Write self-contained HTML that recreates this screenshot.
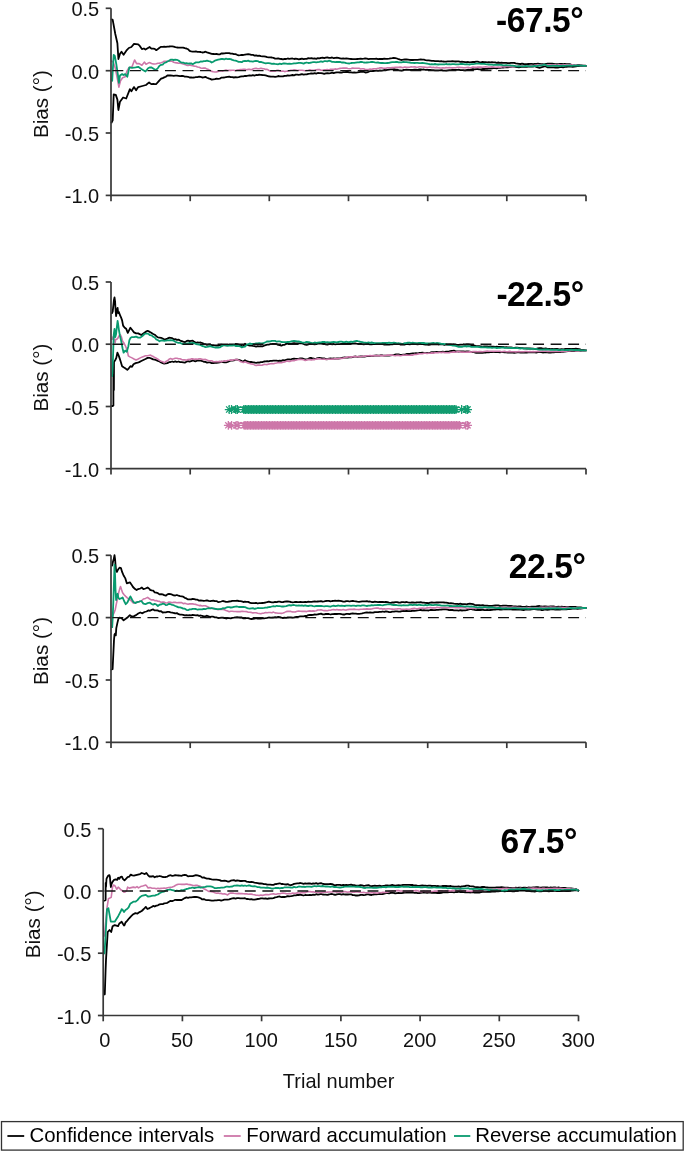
<!DOCTYPE html><html><head><meta charset="utf-8"><style>html,body{margin:0;padding:0;background:#fff;}svg{display:block}text{-webkit-font-smoothing:antialiased}</style></head><body>
<svg width="685" height="1152" viewBox="0 0 685 1152" font-family='"Liberation Sans", sans-serif'>
<rect width="685" height="1152" fill="#fff"/>
<g opacity="0.999">
<path d="M111.6 19.4 L112.7 19.9 L115.3 34.0 L117.4 43.3 L118.4 59.0 L120.0 53.8 L121.5 51.7 L123.6 54.8 L126.8 50.1 L128.8 48.0 L131.4 47.0 L134.0 43.9 L138.2 44.4 L139.8 45.9 L141.9 49.1 L143.9 48.5 L145.5 49.6 L149.7 47.0 L150.0 47.6 L151.6 48.7 L153.2 48.6 L154.7 48.9 L156.3 50.2 L157.9 49.1 L159.5 47.8 L161.1 46.8 L162.7 46.8 L164.2 46.6 L165.8 46.9 L167.4 46.6 L169.0 46.5 L170.6 46.3 L172.2 46.4 L173.7 46.6 L175.3 47.1 L176.9 47.5 L178.5 47.7 L180.1 47.7 L181.7 47.6 L183.2 47.7 L184.8 48.2 L186.4 48.5 L188.0 49.2 L189.6 50.8 L191.2 51.3 L192.7 51.6 L194.3 51.6 L195.9 51.4 L197.5 51.8 L199.1 51.8 L200.7 52.0 L202.2 52.5 L203.8 52.3 L205.4 51.7 L207.0 52.4 L208.6 52.9 L210.2 53.4 L211.7 53.9 L213.3 54.0 L214.9 54.2 L216.5 53.9 L218.1 54.4 L219.7 54.4 L221.2 53.5 L222.8 53.5 L224.4 53.4 L226.0 53.1 L227.6 53.1 L229.2 53.2 L230.7 53.7 L232.3 53.7 L233.9 54.2 L235.5 54.1 L237.1 54.8 L238.7 55.3 L240.2 55.2 L241.8 55.0 L243.4 55.0 L245.0 54.6 L246.6 54.4 L248.2 54.2 L249.7 54.4 L251.3 54.9 L252.9 54.8 L254.5 55.6 L256.1 55.3 L257.7 55.9 L259.2 55.7 L260.8 56.2 L262.4 56.3 L264.0 56.3 L265.6 56.6 L267.2 57.1 L268.7 57.4 L270.3 57.4 L271.9 57.5 L273.5 57.9 L275.1 58.6 L276.7 58.7 L278.2 58.3 L279.8 58.8 L281.4 59.0 L283.0 59.3 L284.6 58.8 L286.2 59.0 L287.7 58.5 L289.3 58.8 L290.9 58.6 L292.5 58.5 L294.1 59.0 L295.7 58.7 L297.2 58.9 L298.8 59.3 L300.4 59.0 L302.0 58.7 L303.6 59.1 L305.2 58.8 L306.7 58.8 L308.3 58.2 L309.9 58.3 L311.5 58.2 L313.1 58.7 L314.7 58.4 L316.2 58.8 L317.8 58.2 L319.4 58.4 L321.0 57.8 L322.6 57.7 L324.2 58.1 L325.7 57.6 L327.3 57.4 L328.9 57.8 L330.5 57.8 L332.1 57.5 L333.7 58.2 L335.2 57.8 L336.8 57.6 L338.4 57.9 L340.0 58.3 L341.6 58.7 L343.2 58.5 L344.7 58.6 L346.3 58.4 L347.9 58.6 L349.5 58.9 L351.1 59.0 L352.7 59.2 L354.2 59.1 L355.8 59.2 L357.4 59.0 L359.0 58.9 L360.6 58.6 L362.2 58.8 L363.7 58.7 L365.3 58.5 L366.9 58.7 L368.5 59.1 L370.1 58.8 L371.7 58.9 L373.2 58.9 L374.8 58.9 L376.4 58.7 L378.0 59.2 L379.6 58.9 L381.2 59.0 L382.7 59.0 L384.3 58.7 L385.9 58.9 L387.5 58.8 L389.1 58.7 L390.7 58.4 L392.2 58.2 L393.8 57.9 L395.4 58.1 L397.0 58.5 L398.6 59.2 L400.2 59.7 L401.7 60.0 L403.3 59.6 L404.9 59.5 L406.5 59.4 L408.1 59.6 L409.7 59.8 L411.2 60.0 L412.8 60.0 L414.4 59.8 L416.0 59.8 L417.6 59.9 L419.2 59.6 L420.7 59.5 L422.3 59.7 L423.9 59.7 L425.5 60.1 L427.1 60.3 L428.7 60.3 L430.2 60.6 L431.8 60.9 L433.4 60.9 L435.0 61.1 L436.6 61.2 L438.2 61.1 L439.7 61.3 L441.3 61.1 L442.9 61.5 L444.5 61.7 L446.1 61.7 L447.7 61.4 L449.2 61.4 L450.8 61.4 L452.4 61.1 L454.0 61.3 L455.6 61.5 L457.2 61.4 L458.7 61.3 L460.3 61.8 L461.9 61.7 L463.5 61.9 L465.1 62.2 L466.7 62.2 L468.2 62.0 L469.8 62.4 L471.4 62.1 L473.0 61.8 L474.6 62.0 L476.2 61.7 L477.7 61.7 L479.3 62.2 L480.9 62.3 L482.5 62.0 L484.1 62.1 L485.7 62.2 L487.2 62.3 L488.8 62.2 L490.4 62.4 L492.0 62.2 L493.6 62.3 L495.2 62.4 L496.7 62.8 L498.3 62.5 L499.9 62.8 L501.5 62.7 L503.1 62.8 L504.7 62.8 L506.2 62.9 L507.8 63.1 L509.4 63.1 L511.0 62.9 L512.6 62.8 L514.2 62.9 L515.7 63.4 L517.3 63.6 L518.9 63.9 L520.5 64.0 L522.1 63.7 L523.7 64.0 L525.2 64.1 L526.8 64.2 L528.4 64.0 L530.0 63.9 L531.6 63.9 L533.2 64.1 L534.7 63.9 L536.3 63.8 L537.9 63.7 L539.5 63.9 L541.1 64.1 L542.7 64.2 L544.2 64.3 L545.8 64.0 L547.4 63.6 L549.0 63.7 L550.6 63.6 L552.2 63.7 L553.7 63.9 L555.3 64.1 L556.9 64.1 L558.5 64.2 L560.1 63.9 L561.7 63.9 L563.2 64.2 L564.8 64.0 L566.4 64.1 L568.0 64.1 L569.6 64.1 L571.2 64.6 L572.7 64.9 L574.3 65.0 L575.9 64.8 L577.5 64.9 L579.1 65.0 L580.7 65.3 L582.2 65.5 L583.8 65.6 L585.4 65.7 L586.0 65.8" fill="none" stroke="#000" stroke-width="1.8" stroke-linejoin="round" stroke-linecap="round"/>
<path d="M111.6 122.5 L112.7 120.4 L113.7 94.4 L115.8 94.9 L117.4 99.6 L118.4 110.0 L120.0 101.7 L123.1 97.5 L126.2 98.5 L129.9 89.2 L131.4 91.2 L134.0 87.1 L136.1 90.2 L138.2 87.1 L142.4 86.0 L146.0 85.0 L149.1 82.4 L150.0 83.3 L151.6 84.2 L153.2 84.0 L154.7 84.2 L156.3 84.0 L157.9 82.2 L159.5 80.3 L161.1 78.7 L162.7 78.1 L164.2 77.4 L165.8 76.7 L167.4 75.5 L169.0 75.4 L170.6 75.5 L172.2 75.6 L173.7 75.8 L175.3 75.7 L176.9 75.7 L178.5 75.9 L180.1 76.1 L181.7 75.9 L183.2 76.0 L184.8 76.6 L186.4 76.7 L188.0 76.8 L189.6 77.5 L191.2 77.5 L192.7 77.7 L194.3 77.5 L195.9 77.1 L197.5 77.1 L199.1 76.7 L200.7 76.9 L202.2 77.5 L203.8 77.4 L205.4 76.9 L207.0 77.7 L208.6 78.4 L210.2 78.9 L211.7 79.6 L213.3 79.4 L214.9 79.2 L216.5 78.6 L218.1 78.8 L219.7 78.7 L221.2 77.7 L222.8 77.6 L224.4 77.5 L226.0 77.1 L227.6 76.9 L229.2 76.7 L230.7 77.2 L232.3 77.2 L233.9 77.5 L235.5 77.2 L237.1 77.3 L238.7 77.2 L240.2 76.7 L241.8 76.3 L243.4 76.3 L245.0 75.9 L246.6 76.0 L248.2 75.6 L249.7 75.4 L251.3 75.7 L252.9 75.2 L254.5 75.6 L256.1 75.0 L257.7 75.2 L259.2 74.6 L260.8 74.8 L262.4 75.0 L264.0 75.1 L265.6 75.3 L267.2 75.8 L268.7 76.3 L270.3 76.5 L271.9 76.6 L273.5 76.6 L275.1 76.9 L276.7 76.7 L278.2 76.0 L279.8 76.3 L281.4 76.3 L283.0 76.4 L284.6 75.8 L286.2 75.9 L287.7 75.4 L289.3 75.6 L290.9 75.3 L292.5 75.0 L294.1 75.3 L295.7 74.7 L297.2 74.7 L298.8 74.9 L300.4 74.5 L302.0 74.2 L303.6 74.6 L305.2 74.3 L306.7 74.4 L308.3 73.8 L309.9 73.7 L311.5 73.4 L313.1 73.6 L314.7 73.2 L316.2 73.6 L317.8 73.0 L319.4 73.2 L321.0 73.1 L322.6 73.4 L324.2 73.8 L325.7 73.3 L327.3 73.1 L328.9 73.4 L330.5 73.2 L332.1 72.7 L333.7 73.2 L335.2 72.7 L336.8 72.3 L338.4 72.3 L340.0 72.5 L341.6 72.7 L343.2 72.2 L344.7 72.1 L346.3 71.8 L347.9 72.0 L349.5 72.3 L351.1 72.4 L352.7 72.6 L354.2 72.5 L355.8 72.6 L357.4 72.4 L359.0 72.1 L360.6 71.8 L362.2 71.9 L363.7 71.7 L365.3 72.5 L366.9 72.3 L368.5 71.8 L370.1 71.1 L371.7 71.2 L373.2 71.0 L374.8 70.9 L376.4 70.5 L378.0 70.9 L379.6 70.5 L381.2 70.6 L382.7 70.4 L384.3 70.0 L385.9 70.2 L387.5 69.9 L389.1 69.6 L390.7 69.4 L392.2 69.4 L393.8 69.2 L395.4 69.5 L397.0 69.7 L398.6 70.2 L400.2 70.4 L401.7 70.6 L403.3 70.0 L404.9 69.9 L406.5 69.7 L408.1 69.8 L409.7 69.9 L411.2 70.0 L412.8 70.0 L414.4 69.7 L416.0 69.7 L417.6 69.8 L419.2 69.5 L420.7 69.3 L422.3 69.6 L423.9 69.5 L425.5 69.9 L427.1 69.9 L428.7 69.8 L430.2 69.9 L431.8 70.1 L433.4 70.2 L435.0 70.4 L436.6 70.4 L438.2 70.3 L439.7 70.4 L441.3 70.2 L442.9 70.5 L444.5 70.7 L446.1 70.6 L447.7 70.3 L449.2 70.2 L450.8 70.2 L452.4 69.8 L454.0 69.8 L455.6 69.9 L457.2 69.8 L458.7 69.7 L460.3 70.2 L461.9 70.2 L463.5 70.1 L465.1 70.3 L466.7 70.0 L468.2 69.6 L469.8 69.8 L471.4 69.5 L473.0 69.2 L474.6 69.4 L476.2 69.2 L477.7 69.1 L479.3 69.4 L480.9 69.4 L482.5 69.0 L484.1 69.0 L485.7 68.9 L487.2 68.9 L488.8 68.7 L490.4 68.7 L492.0 68.3 L493.6 68.2 L495.2 68.1 L496.7 68.3 L498.3 67.8 L499.9 67.9 L501.5 67.6 L503.1 67.6 L504.7 67.4 L506.2 67.4 L507.8 67.4 L509.4 67.2 L511.0 66.9 L512.6 66.7 L514.2 66.6 L515.7 67.0 L517.3 67.1 L518.9 67.3 L520.5 67.2 L522.1 66.7 L523.7 66.9 L525.2 66.9 L526.8 66.9 L528.4 66.7 L530.0 66.5 L531.6 66.4 L533.2 66.5 L534.7 66.2 L536.3 66.8 L537.9 67.4 L539.5 67.8 L541.1 67.3 L542.7 66.9 L544.2 66.3 L545.8 66.4 L547.4 67.3 L549.0 67.4 L550.6 67.3 L552.2 67.3 L553.7 67.4 L555.3 67.5 L556.9 67.4 L558.5 67.5 L560.1 67.1 L561.7 67.0 L563.2 67.3 L564.8 66.9 L566.4 66.8 L568.0 66.5 L569.6 66.4 L571.2 66.6 L572.7 66.8 L574.3 66.6 L575.9 66.3 L577.5 66.1 L579.1 66.0 L580.7 66.1 L582.2 66.0 L583.8 65.9 L585.4 65.8 L586.0 65.8" fill="none" stroke="#000" stroke-width="1.8" stroke-linejoin="round" stroke-linecap="round"/>
<path d="M111.6 61.0 L113.2 62.1 L115.3 68.3 L117.4 78.8 L118.9 87.1 L120.5 80.8 L122.6 77.7 L125.2 76.7 L126.8 71.5 L128.8 67.8 L132.0 66.8 L134.6 60.0 L136.6 63.6 L139.2 63.6 L141.9 65.2 L144.5 62.1 L146.0 64.2 L149.1 62.6 L150.0 62.8 L151.6 63.5 L153.2 63.9 L154.7 64.0 L156.3 63.7 L157.9 63.2 L159.5 63.1 L161.1 62.7 L162.7 62.2 L164.2 61.2 L165.8 61.2 L167.4 61.2 L169.0 61.2 L170.6 61.1 L172.2 61.3 L173.7 62.2 L175.3 62.6 L176.9 62.9 L178.5 63.3 L180.1 63.1 L181.7 63.4 L183.2 64.0 L184.8 64.5 L186.4 65.1 L188.0 65.5 L189.6 65.0 L191.2 65.4 L192.7 65.7 L194.3 66.1 L195.9 66.3 L197.5 67.0 L199.1 67.2 L200.7 67.9 L202.2 68.3 L203.8 68.1 L205.4 68.1 L207.0 69.1 L208.6 69.6 L210.2 70.5 L211.7 71.4 L213.3 71.8 L214.9 72.0 L216.5 71.9 L218.1 71.5 L219.7 70.9 L221.2 70.7 L222.8 71.1 L224.4 70.5 L226.0 70.1 L227.6 70.5 L229.2 70.3 L230.7 70.4 L232.3 70.3 L233.9 70.2 L235.5 70.7 L237.1 70.1 L238.7 69.9 L240.2 69.5 L241.8 69.6 L243.4 69.4 L245.0 69.4 L246.6 69.7 L248.2 69.4 L249.7 69.4 L251.3 69.7 L252.9 69.0 L254.5 68.5 L256.1 68.4 L257.7 68.7 L259.2 68.7 L260.8 68.3 L262.4 68.6 L264.0 68.8 L265.6 69.4 L267.2 69.4 L268.7 70.3 L270.3 71.1 L271.9 71.3 L273.5 71.2 L275.1 71.2 L276.7 70.4 L278.2 70.3 L279.8 71.0 L281.4 71.3 L283.0 71.1 L284.6 71.6 L286.2 71.3 L287.7 71.3 L289.3 70.7 L290.9 70.2 L292.5 70.2 L294.1 69.9 L295.7 70.0 L297.2 70.5 L298.8 70.3 L300.4 70.2 L302.0 70.3 L303.6 70.5 L305.2 70.8 L306.7 70.5 L308.3 70.2 L309.9 69.8 L311.5 70.4 L313.1 70.2 L314.7 70.0 L316.2 69.7 L317.8 69.6 L319.4 69.6 L321.0 70.3 L322.6 70.2 L324.2 69.8 L325.7 69.8 L327.3 69.6 L328.9 70.0 L330.5 69.3 L332.1 69.2 L333.7 69.3 L335.2 68.9 L336.8 69.2 L338.4 68.7 L340.0 68.4 L341.6 68.3 L343.2 68.0 L344.7 68.1 L346.3 68.0 L347.9 68.5 L349.5 68.7 L351.1 68.5 L352.7 68.1 L354.2 68.2 L355.8 68.2 L357.4 68.2 L359.0 68.3 L360.6 69.0 L362.2 68.8 L363.7 68.7 L365.3 69.5 L366.9 69.5 L368.5 69.6 L370.1 69.1 L371.7 69.2 L373.2 68.9 L374.8 68.8 L376.4 68.7 L378.0 68.4 L379.6 67.9 L381.2 67.7 L382.7 68.1 L384.3 68.2 L385.9 68.3 L387.5 67.8 L389.1 67.7 L390.7 67.7 L392.2 67.6 L393.8 67.6 L395.4 67.3 L397.0 67.4 L398.6 67.4 L400.2 67.1 L401.7 67.4 L403.3 67.6 L404.9 67.0 L406.5 67.3 L408.1 67.4 L409.7 67.3 L411.2 66.7 L412.8 67.0 L414.4 66.7 L416.0 67.1 L417.6 67.2 L419.2 66.8 L420.7 66.7 L422.3 67.0 L423.9 67.1 L425.5 67.3 L427.1 67.6 L428.7 67.3 L430.2 67.0 L431.8 67.6 L433.4 67.3 L435.0 67.7 L436.6 67.4 L438.2 67.7 L439.7 67.9 L441.3 68.0 L442.9 67.8 L444.5 68.0 L446.1 67.6 L447.7 67.7 L449.2 67.5 L450.8 67.8 L452.4 67.9 L454.0 67.7 L455.6 67.7 L457.2 67.3 L458.7 67.2 L460.3 67.4 L461.9 67.5 L463.5 67.8 L465.1 67.8 L466.7 67.5 L468.2 67.4 L469.8 67.7 L471.4 67.6 L473.0 67.1 L474.6 67.3 L476.2 67.4 L477.7 67.0 L479.3 67.1 L480.9 67.0 L482.5 67.2 L484.1 67.0 L485.7 66.9 L487.2 67.0 L488.8 67.3 L490.4 67.0 L492.0 66.8 L493.6 67.0 L495.2 67.3 L496.7 67.2 L498.3 67.0 L499.9 67.2 L501.5 67.1 L503.1 66.6 L504.7 66.9 L506.2 66.5 L507.8 66.4 L509.4 66.6 L511.0 66.5 L512.6 66.6 L514.2 66.3 L515.7 66.5 L517.3 66.2 L518.9 66.0 L520.5 66.1 L522.1 66.0 L523.7 66.0 L525.2 66.3 L526.8 66.2 L528.4 65.8 L530.0 65.7 L531.6 65.6 L533.2 65.5 L534.7 65.4 L536.3 65.2 L537.9 64.8 L539.5 64.7 L541.1 65.0 L542.7 65.0 L544.2 65.2 L545.8 65.3 L547.4 65.0 L549.0 64.9 L550.6 64.9 L552.2 64.7 L553.7 64.9 L555.3 64.8 L556.9 65.0 L558.5 64.7 L560.1 64.9 L561.7 65.0 L563.2 64.9 L564.8 64.8 L566.4 64.7 L568.0 64.9 L569.6 64.9 L571.2 65.0 L572.7 64.9 L574.3 64.8 L575.9 64.9 L577.5 65.3 L579.1 65.2 L580.7 65.6 L582.2 65.5 L583.8 65.6 L585.4 65.7 L586.0 65.8" fill="none" stroke="#cd77a9" stroke-width="1.6" stroke-linejoin="round" stroke-linecap="round"/>
<path d="M112.2 80.8 L112.7 71.5 L113.7 54.8 L114.8 55.8 L116.3 64.2 L117.9 74.6 L118.9 82.9 L120.0 75.6 L122.1 74.1 L123.6 75.1 L125.2 74.1 L127.3 76.7 L129.4 67.3 L132.0 67.8 L135.6 67.3 L138.2 66.8 L141.3 68.9 L142.9 69.9 L145.5 71.5 L148.1 68.3 L150.0 67.3 L151.6 67.5 L153.2 68.5 L154.7 69.5 L156.3 69.6 L157.9 68.1 L159.5 65.7 L161.1 64.9 L162.7 64.6 L164.2 63.0 L165.8 62.5 L167.4 61.5 L169.0 60.8 L170.6 59.6 L172.2 59.7 L173.7 60.0 L175.3 59.7 L176.9 59.8 L178.5 60.5 L180.1 61.8 L181.7 62.7 L183.2 62.6 L184.8 63.3 L186.4 63.1 L188.0 63.7 L189.6 63.5 L191.2 63.3 L192.7 64.2 L194.3 63.3 L195.9 62.4 L197.5 62.4 L199.1 62.3 L200.7 61.5 L202.2 61.6 L203.8 61.2 L205.4 61.1 L207.0 60.6 L208.6 61.1 L210.2 61.4 L211.7 62.5 L213.3 61.8 L214.9 60.6 L216.5 60.1 L218.1 59.6 L219.7 59.3 L221.2 59.0 L222.8 59.0 L224.4 59.3 L226.0 58.7 L227.6 59.1 L229.2 59.0 L230.7 59.1 L232.3 59.9 L233.9 60.4 L235.5 60.7 L237.1 61.2 L238.7 61.9 L240.2 61.8 L241.8 62.2 L243.4 61.1 L245.0 61.0 L246.6 61.1 L248.2 60.7 L249.7 61.3 L251.3 61.4 L252.9 61.6 L254.5 61.2 L256.1 61.0 L257.7 61.1 L259.2 62.0 L260.8 61.8 L262.4 62.4 L264.0 62.9 L265.6 63.3 L267.2 63.1 L268.7 63.1 L270.3 63.4 L271.9 63.9 L273.5 63.6 L275.1 63.9 L276.7 64.1 L278.2 64.3 L279.8 63.6 L281.4 64.1 L283.0 63.5 L284.6 63.4 L286.2 63.6 L287.7 63.9 L289.3 63.6 L290.9 63.9 L292.5 63.7 L294.1 63.4 L295.7 63.3 L297.2 63.1 L298.8 62.9 L300.4 62.8 L302.0 63.2 L303.6 63.6 L305.2 62.9 L306.7 62.5 L308.3 63.0 L309.9 62.8 L311.5 62.5 L313.1 62.1 L314.7 62.2 L316.2 62.4 L317.8 62.1 L319.4 61.8 L321.0 61.4 L322.6 61.9 L324.2 61.2 L325.7 61.2 L327.3 61.4 L328.9 60.7 L330.5 61.2 L332.1 61.8 L333.7 61.9 L335.2 62.1 L336.8 61.8 L338.4 62.0 L340.0 61.9 L341.6 62.5 L343.2 62.4 L344.7 62.6 L346.3 63.2 L347.9 63.4 L349.5 63.5 L351.1 63.0 L352.7 62.8 L354.2 62.9 L355.8 62.6 L357.4 62.3 L359.0 62.3 L360.6 62.0 L362.2 62.0 L363.7 62.5 L365.3 62.7 L366.9 62.5 L368.5 62.4 L370.1 62.2 L371.7 61.9 L373.2 62.0 L374.8 62.4 L376.4 62.7 L378.0 62.5 L379.6 62.8 L381.2 63.0 L382.7 63.0 L384.3 63.1 L385.9 63.2 L387.5 63.0 L389.1 62.9 L390.7 62.4 L392.2 62.1 L393.8 62.1 L395.4 62.0 L397.0 61.8 L398.6 62.3 L400.2 62.3 L401.7 62.3 L403.3 61.9 L404.9 62.2 L406.5 62.1 L408.1 62.4 L409.7 62.5 L411.2 62.8 L412.8 62.9 L414.4 63.0 L416.0 62.8 L417.6 62.9 L419.2 63.1 L420.7 63.2 L422.3 63.0 L423.9 63.2 L425.5 63.4 L427.1 63.6 L428.7 64.0 L430.2 64.3 L431.8 64.2 L433.4 64.3 L435.0 64.0 L436.6 64.3 L438.2 64.5 L439.7 64.3 L441.3 64.3 L442.9 64.4 L444.5 64.4 L446.1 64.0 L447.7 64.3 L449.2 64.2 L450.8 64.3 L452.4 64.1 L454.0 64.2 L455.6 64.3 L457.2 64.4 L458.7 64.4 L460.3 64.0 L461.9 63.9 L463.5 64.1 L465.1 64.3 L466.7 64.2 L468.2 64.4 L469.8 64.5 L471.4 64.1 L473.0 64.1 L474.6 63.9 L476.2 63.6 L477.7 63.6 L479.3 63.7 L480.9 63.8 L482.5 63.9 L484.1 63.8 L485.7 64.1 L487.2 64.3 L488.8 64.5 L490.4 64.7 L492.0 64.6 L493.6 65.0 L495.2 64.6 L496.7 64.8 L498.3 64.8 L499.9 64.9 L501.5 64.9 L503.1 65.3 L504.7 65.3 L506.2 65.1 L507.8 65.4 L509.4 65.3 L511.0 65.5 L512.6 65.6 L514.2 65.8 L515.7 66.2 L517.3 66.3 L518.9 66.2 L520.5 66.4 L522.1 66.4 L523.7 66.3 L525.2 66.0 L526.8 66.1 L528.4 66.1 L530.0 66.3 L531.6 66.4 L533.2 66.2 L534.7 66.0 L536.3 66.2 L537.9 65.8 L539.5 65.5 L541.1 65.4 L542.7 65.2 L544.2 64.7 L545.8 65.1 L547.4 66.0 L549.0 65.9 L550.6 65.8 L552.2 65.6 L553.7 65.6 L555.3 65.9 L556.9 65.7 L558.5 65.9 L560.1 66.0 L561.7 65.8 L563.2 65.6 L564.8 65.8 L566.4 65.7 L568.0 65.6 L569.6 65.5 L571.2 65.8 L572.7 65.7 L574.3 65.5 L575.9 65.6 L577.5 65.4 L579.1 65.6 L580.7 65.6 L582.2 65.6 L583.8 65.8 L585.4 65.8 L586.0 65.8" fill="none" stroke="#089a6f" stroke-width="1.8" stroke-linejoin="round" stroke-linecap="round"/>
<line x1="111.0" y1="70.67" x2="586.0" y2="70.67" stroke="#111" stroke-width="1.3" stroke-dasharray="10.9 6.63" stroke-dashoffset="16.13"/>
<path d="M111.0 8.3 L111.0 195.4 L586.0 195.4" fill="none" stroke="#383838" stroke-width="1.7"/>
<line x1="105.7" y1="8.3" x2="111.0" y2="8.3" stroke="#383838" stroke-width="1.7"/>
<text x="99.2" y="16.1" transform="matrix(1 0 0 1.03 0 -0.269)" font-size="20" text-anchor="end" fill="#111">0.5</text>
<line x1="105.7" y1="70.7" x2="111.0" y2="70.7" stroke="#383838" stroke-width="1.7"/>
<text x="99.2" y="78.5" transform="matrix(1 0 0 1.03 0 -2.140)" font-size="20" text-anchor="end" fill="#111">0.0</text>
<line x1="105.7" y1="133.0" x2="111.0" y2="133.0" stroke="#383838" stroke-width="1.7"/>
<text x="99.2" y="140.8" transform="matrix(1 0 0 1.03 0 -4.011)" font-size="20" text-anchor="end" fill="#111">-0.5</text>
<line x1="105.7" y1="195.4" x2="111.0" y2="195.4" stroke="#383838" stroke-width="1.7"/>
<text x="99.2" y="203.2" transform="matrix(1 0 0 1.03 0 -5.882)" font-size="20" text-anchor="end" fill="#111">-1.0</text>
<line x1="111.0" y1="195.4" x2="111.0" y2="201.2" stroke="#383838" stroke-width="1.7"/>
<line x1="190.2" y1="195.4" x2="190.2" y2="201.2" stroke="#383838" stroke-width="1.7"/>
<line x1="269.3" y1="195.4" x2="269.3" y2="201.2" stroke="#383838" stroke-width="1.7"/>
<line x1="348.5" y1="195.4" x2="348.5" y2="201.2" stroke="#383838" stroke-width="1.7"/>
<line x1="427.7" y1="195.4" x2="427.7" y2="201.2" stroke="#383838" stroke-width="1.7"/>
<line x1="506.8" y1="195.4" x2="506.8" y2="201.2" stroke="#383838" stroke-width="1.7"/>
<line x1="586.0" y1="195.4" x2="586.0" y2="201.2" stroke="#383838" stroke-width="1.7"/>
<text transform="translate(48.2 104.1) rotate(-90) scale(1.035 1)" font-size="20" text-anchor="middle" fill="#111">Bias (°)</text>
<text x="583.3" y="31.8" transform="matrix(1 0 0 1.025 0 -0.501)" font-size="33.6" font-weight="bold" letter-spacing="-0.45" text-anchor="end" fill="#000">-67.5°</text>
<path d="M112.0 313.1 L112.7 311.6 L113.2 306.9 L114.0 299.6 L114.5 297.5 L115.1 301.7 L115.5 309.0 L116.1 316.2 L116.9 310.0 L117.6 307.9 L118.2 313.1 L118.9 312.1 L120.0 315.2 L121.0 317.3 L122.1 320.4 L123.1 325.6 L124.7 327.7 L126.2 328.8 L127.8 332.9 L128.8 330.8 L130.4 327.7 L132.0 329.8 L134.0 332.4 L136.1 333.4 L138.2 333.4 L141.3 335.0 L143.4 333.4 L145.5 331.9 L147.6 330.8 L149.7 331.9 L150.0 332.0 L151.6 333.0 L153.2 334.0 L154.7 334.7 L156.3 336.2 L157.9 337.4 L159.5 337.6 L161.1 337.8 L162.7 338.5 L164.2 339.4 L165.8 339.2 L167.4 338.6 L169.0 337.7 L170.6 337.9 L172.2 338.1 L173.7 339.3 L175.3 339.1 L176.9 339.9 L178.5 339.6 L180.1 340.6 L181.7 341.1 L183.2 341.7 L184.8 342.2 L186.4 341.2 L188.0 340.7 L189.6 341.2 L191.2 340.9 L192.7 340.6 L194.3 341.9 L195.9 342.8 L197.5 342.5 L199.1 342.6 L200.7 342.5 L202.2 343.0 L203.8 343.9 L205.4 344.2 L207.0 344.9 L208.6 344.5 L210.2 344.5 L211.7 345.2 L213.3 345.2 L214.9 345.3 L216.5 345.5 L218.1 345.5 L219.7 345.2 L221.2 344.6 L222.8 344.8 L224.4 345.2 L226.0 345.3 L227.6 345.0 L229.2 344.5 L230.7 344.3 L232.3 344.5 L233.9 344.5 L235.5 344.0 L237.1 344.2 L238.7 344.7 L240.2 345.2 L241.8 345.9 L243.4 346.1 L245.0 343.8 L246.6 344.8 L248.2 345.2 L249.7 345.7 L251.3 345.6 L252.9 345.9 L254.5 346.1 L256.1 346.6 L257.7 346.2 L259.2 346.4 L260.8 346.1 L262.4 346.4 L264.0 345.7 L265.6 345.2 L267.2 344.7 L268.7 344.6 L270.3 344.1 L271.9 344.0 L273.5 343.8 L275.1 343.9 L276.7 344.2 L278.2 344.9 L279.8 345.1 L281.4 345.7 L283.0 344.9 L284.6 344.8 L286.2 343.9 L287.7 343.4 L289.3 343.7 L290.9 344.0 L292.5 343.3 L294.1 343.1 L295.7 343.4 L297.2 343.3 L298.8 343.4 L300.4 343.3 L302.0 343.4 L303.6 344.0 L305.2 344.7 L306.7 344.9 L308.3 344.4 L309.9 343.7 L311.5 343.7 L313.1 344.1 L314.7 344.3 L316.2 344.2 L317.8 343.7 L319.4 343.6 L321.0 343.7 L322.6 343.9 L324.2 343.8 L325.7 344.4 L327.3 344.7 L328.9 344.1 L330.5 343.9 L332.1 344.3 L333.7 344.0 L335.2 344.4 L336.8 344.2 L338.4 344.2 L340.0 344.2 L341.6 343.8 L343.2 343.6 L344.7 343.5 L346.3 343.7 L347.9 343.8 L349.5 343.4 L351.1 343.8 L352.7 343.7 L354.2 343.4 L355.8 343.5 L357.4 343.9 L359.0 343.8 L360.6 343.8 L362.2 344.1 L363.7 344.3 L365.3 344.2 L366.9 344.0 L368.5 344.0 L370.1 344.3 L371.7 344.3 L373.2 344.2 L374.8 344.0 L376.4 343.9 L378.0 344.2 L379.6 344.2 L381.2 343.8 L382.7 344.2 L384.3 344.5 L385.9 344.6 L387.5 344.6 L389.1 344.7 L390.7 344.4 L392.2 344.4 L393.8 344.1 L395.4 343.7 L397.0 343.9 L398.6 344.0 L400.2 344.5 L401.7 344.7 L403.3 344.5 L404.9 344.5 L406.5 344.1 L408.1 344.2 L409.7 344.4 L411.2 344.2 L412.8 344.0 L414.4 344.1 L416.0 344.0 L417.6 344.3 L419.2 344.1 L420.7 343.9 L422.3 344.0 L423.9 344.4 L425.5 344.6 L427.1 344.6 L428.7 344.8 L430.2 344.5 L431.8 344.2 L433.4 344.3 L435.0 344.3 L436.6 344.1 L438.2 344.5 L439.7 344.4 L441.3 344.4 L442.9 344.4 L444.5 344.9 L446.1 344.5 L447.7 344.6 L449.2 344.5 L450.8 344.4 L452.4 344.6 L454.0 344.5 L455.6 344.9 L457.2 344.8 L458.7 344.9 L460.3 344.6 L461.9 344.6 L463.5 344.7 L465.1 344.8 L466.7 344.5 L468.2 344.4 L469.8 344.6 L471.4 345.1 L473.0 345.1 L474.6 345.5 L476.2 346.1 L477.7 346.1 L479.3 346.2 L480.9 346.3 L482.5 346.6 L484.1 346.5 L485.7 346.5 L487.2 346.4 L488.8 346.6 L490.4 346.5 L492.0 346.7 L493.6 346.7 L495.2 346.8 L496.7 346.7 L498.3 346.8 L499.9 347.0 L501.5 347.0 L503.1 346.9 L504.7 347.3 L506.2 347.2 L507.8 347.5 L509.4 347.5 L511.0 347.4 L512.6 347.7 L514.2 347.9 L515.7 347.7 L517.3 347.6 L518.9 347.8 L520.5 348.1 L522.1 348.2 L523.7 348.4 L525.2 348.3 L526.8 348.5 L528.4 348.4 L530.0 348.5 L531.6 348.6 L533.2 348.7 L534.7 348.8 L536.3 348.9 L537.9 348.4 L539.5 348.2 L541.1 348.2 L542.7 348.7 L544.2 348.7 L545.8 348.5 L547.4 348.8 L549.0 349.0 L550.6 349.2 L552.2 349.0 L553.7 349.1 L555.3 349.0 L556.9 348.9 L558.5 349.2 L560.1 349.4 L561.7 349.1 L563.2 349.4 L564.8 349.0 L566.4 349.0 L568.0 348.9 L569.6 348.9 L571.2 348.8 L572.7 349.0 L574.3 348.8 L575.9 348.7 L577.5 348.8 L579.1 349.1 L580.7 349.7 L582.2 349.9 L583.8 350.0 L585.4 350.3 L586.0 350.4" fill="none" stroke="#000" stroke-width="1.8" stroke-linejoin="round" stroke-linecap="round"/>
<path d="M111.6 406.2 L112.6 406.0 L113.4 405.6 L113.4 374.6 L113.9 390.0 L114.0 362.1 L115.3 360.0 L116.3 357.9 L117.4 352.7 L118.4 354.8 L119.5 357.9 L120.5 361.0 L122.1 366.2 L123.6 367.3 L125.2 368.3 L127.3 369.9 L128.8 368.3 L130.4 366.2 L132.0 366.8 L133.5 364.2 L135.6 363.1 L137.7 362.6 L139.2 362.1 L141.3 361.0 L143.4 360.0 L145.5 359.0 L147.6 357.9 L149.7 357.9 L150.0 358.0 L151.6 358.6 L153.2 359.4 L154.7 359.7 L156.3 360.1 L157.9 360.9 L159.5 361.4 L161.1 362.4 L162.7 363.1 L164.2 363.7 L165.8 363.4 L167.4 363.1 L169.0 362.2 L170.6 362.0 L172.2 361.5 L173.7 362.0 L175.3 361.4 L176.9 362.0 L178.5 361.5 L180.1 362.1 L181.7 362.2 L183.2 362.4 L184.8 362.7 L186.4 361.7 L188.0 361.1 L189.6 361.6 L191.2 361.2 L192.7 360.4 L194.3 361.0 L195.9 361.3 L197.5 360.5 L199.1 360.7 L200.7 360.7 L202.2 361.0 L203.8 361.8 L205.4 361.9 L207.0 362.6 L208.6 362.4 L210.2 362.4 L211.7 363.2 L213.3 363.0 L214.9 362.8 L216.5 362.9 L218.1 362.7 L219.7 362.4 L221.2 361.7 L222.8 362.0 L224.4 362.3 L226.0 362.4 L227.6 361.9 L229.2 361.1 L230.7 360.6 L232.3 360.6 L233.9 360.4 L235.5 359.7 L237.1 359.7 L238.7 359.9 L240.2 360.3 L241.8 361.1 L243.4 361.5 L245.0 360.2 L246.6 361.2 L248.2 361.6 L249.7 362.0 L251.3 362.0 L252.9 362.3 L254.5 362.5 L256.1 362.9 L257.7 362.5 L259.2 362.7 L260.8 362.1 L262.4 362.1 L264.0 361.5 L265.6 361.3 L267.2 361.2 L268.7 361.4 L270.3 360.9 L271.9 360.9 L273.5 360.7 L275.1 360.6 L276.7 360.6 L278.2 361.0 L279.8 360.7 L281.4 360.9 L283.0 360.1 L284.6 360.3 L286.2 359.8 L287.7 359.3 L289.3 359.4 L290.9 359.6 L292.5 358.8 L294.1 358.6 L295.7 358.9 L297.2 358.8 L298.8 358.7 L300.4 358.5 L302.0 358.4 L303.6 358.9 L305.2 359.5 L306.7 359.5 L308.3 358.9 L309.9 358.0 L311.5 358.0 L313.1 358.5 L314.7 358.8 L316.2 358.6 L317.8 358.1 L319.4 358.0 L321.0 358.1 L322.6 358.4 L324.2 358.3 L325.7 359.0 L327.3 359.3 L328.9 358.6 L330.5 358.4 L332.1 358.7 L333.7 358.4 L335.2 358.7 L336.8 358.5 L338.4 358.5 L340.0 358.4 L341.6 357.9 L343.2 357.6 L344.7 357.4 L346.3 357.6 L347.9 357.6 L349.5 357.1 L351.1 357.4 L352.7 357.1 L354.2 356.7 L355.8 356.5 L357.4 356.9 L359.0 356.6 L360.6 356.4 L362.2 356.5 L363.7 356.6 L365.3 356.5 L366.9 356.1 L368.5 356.0 L370.1 356.2 L371.7 356.1 L373.2 355.9 L374.8 355.6 L376.4 355.5 L378.0 355.6 L379.6 355.6 L381.2 355.1 L382.7 355.4 L384.3 355.6 L385.9 355.6 L387.5 355.6 L389.1 355.6 L390.7 355.3 L392.2 355.2 L393.8 354.9 L395.4 354.5 L397.0 354.5 L398.6 354.4 L400.2 354.9 L401.7 354.9 L403.3 354.7 L404.9 354.6 L406.5 354.0 L408.1 354.0 L409.7 354.0 L411.2 353.7 L412.8 353.4 L414.4 353.3 L416.0 353.2 L417.6 353.4 L419.2 353.0 L420.7 352.8 L422.3 352.7 L423.9 353.0 L425.5 353.1 L427.1 353.0 L428.7 353.1 L430.2 352.7 L431.8 352.2 L433.4 352.2 L435.0 352.1 L436.6 351.9 L438.2 352.1 L439.7 351.9 L441.3 351.8 L442.9 351.7 L444.5 352.1 L446.1 351.6 L447.7 351.6 L449.2 351.4 L450.8 351.0 L452.4 350.9 L454.0 350.7 L455.6 351.3 L457.2 351.3 L458.7 351.5 L460.3 351.3 L461.9 351.3 L463.5 351.5 L465.1 351.7 L466.7 351.4 L468.2 351.4 L469.8 351.6 L471.4 352.0 L473.0 352.0 L474.6 352.4 L476.2 352.9 L477.7 352.8 L479.3 352.8 L480.9 352.7 L482.5 352.8 L484.1 352.6 L485.7 352.5 L487.2 352.2 L488.8 352.3 L490.4 352.1 L492.0 352.2 L493.6 352.2 L495.2 352.1 L496.7 352.0 L498.3 352.1 L499.9 352.3 L501.5 352.2 L503.1 352.1 L504.7 352.4 L506.2 352.3 L507.8 352.6 L509.4 352.6 L511.0 352.5 L512.6 352.7 L514.2 352.8 L515.7 352.5 L517.3 352.3 L518.9 352.4 L520.5 352.6 L522.1 352.6 L523.7 352.7 L525.2 352.5 L526.8 352.5 L528.4 352.4 L530.0 352.4 L531.6 352.3 L533.2 352.3 L534.7 352.3 L536.3 352.5 L537.9 352.2 L539.5 352.1 L541.1 352.1 L542.7 352.5 L544.2 352.4 L545.8 352.1 L547.4 352.4 L549.0 352.6 L550.6 352.6 L552.2 352.4 L553.7 352.4 L555.3 352.1 L556.9 351.9 L558.5 352.1 L560.1 352.1 L561.7 351.8 L563.2 351.9 L564.8 351.5 L566.4 351.4 L568.0 351.2 L569.6 351.1 L571.2 351.0 L572.7 351.2 L574.3 351.0 L575.9 350.8 L577.5 350.7 L579.1 350.6 L580.7 350.8 L582.2 350.7 L583.8 350.5 L585.4 350.4 L586.0 350.4" fill="none" stroke="#000" stroke-width="1.8" stroke-linejoin="round" stroke-linecap="round"/>
<path d="M112.2 339.2 L113.2 336.6 L114.0 339.2 L115.1 342.8 L115.8 339.2 L116.9 339.2 L117.9 338.1 L118.9 336.0 L120.5 335.0 L121.5 337.1 L122.6 341.2 L124.1 343.3 L125.7 346.5 L127.3 350.6 L128.3 355.8 L129.9 356.9 L132.0 357.9 L134.0 359.0 L136.1 360.0 L138.2 359.0 L140.3 357.9 L142.4 356.9 L145.5 355.8 L147.6 355.8 L149.7 355.3 L150.0 355.0 L151.6 355.8 L153.2 356.4 L154.7 357.6 L156.3 358.3 L157.9 359.2 L159.5 360.4 L161.1 361.3 L162.7 361.7 L164.2 362.8 L165.8 361.5 L167.4 360.8 L169.0 359.3 L170.6 358.6 L172.2 359.2 L173.7 358.8 L175.3 358.2 L176.9 358.2 L178.5 358.8 L180.1 358.7 L181.7 359.4 L183.2 359.9 L184.8 359.8 L186.4 360.3 L188.0 359.6 L189.6 359.4 L191.2 358.9 L192.7 358.8 L194.3 359.4 L195.9 359.1 L197.5 359.3 L199.1 358.8 L200.7 358.8 L202.2 359.4 L203.8 359.6 L205.4 359.4 L207.0 360.1 L208.6 360.7 L210.2 360.7 L211.7 360.7 L213.3 361.7 L214.9 361.8 L216.5 361.6 L218.1 361.7 L219.7 361.4 L221.2 361.6 L222.8 361.3 L224.4 360.7 L226.0 361.1 L227.6 360.5 L229.2 360.3 L230.7 359.9 L232.3 360.3 L233.9 359.7 L235.5 359.6 L237.1 359.5 L238.7 360.4 L240.2 361.4 L241.8 361.9 L243.4 362.4 L245.0 361.7 L246.6 362.4 L248.2 363.3 L249.7 363.5 L251.3 364.0 L252.9 364.1 L254.5 364.9 L256.1 365.5 L257.7 365.1 L259.2 365.0 L260.8 365.2 L262.4 365.1 L264.0 364.4 L265.6 364.5 L267.2 364.6 L268.7 364.1 L270.3 363.7 L271.9 363.6 L273.5 363.8 L275.1 363.3 L276.7 363.0 L278.2 362.6 L279.8 362.8 L281.4 362.6 L283.0 362.2 L284.6 361.9 L286.2 361.3 L287.7 361.1 L289.3 361.4 L290.9 361.1 L292.5 360.5 L294.1 360.7 L295.7 360.1 L297.2 359.8 L298.8 359.4 L300.4 359.4 L302.0 359.5 L303.6 359.7 L305.2 360.4 L306.7 359.9 L308.3 359.6 L309.9 359.6 L311.5 359.9 L313.1 359.4 L314.7 359.6 L316.2 359.1 L317.8 358.9 L319.4 358.7 L321.0 359.0 L322.6 359.2 L324.2 359.1 L325.7 359.5 L327.3 359.2 L328.9 359.0 L330.5 359.3 L332.1 359.0 L333.7 359.1 L335.2 358.6 L336.8 358.9 L338.4 358.7 L340.0 358.2 L341.6 358.4 L343.2 358.1 L344.7 357.7 L346.3 357.4 L347.9 357.0 L349.5 356.9 L351.1 357.1 L352.7 356.8 L354.2 356.6 L355.8 356.6 L357.4 356.7 L359.0 356.5 L360.6 356.7 L362.2 356.3 L363.7 356.2 L365.3 356.1 L366.9 355.8 L368.5 355.7 L370.1 355.6 L371.7 355.9 L373.2 355.6 L374.8 355.8 L376.4 355.5 L378.0 355.6 L379.6 355.7 L381.2 355.4 L382.7 355.7 L384.3 355.6 L385.9 355.5 L387.5 355.0 L389.1 355.1 L390.7 355.0 L392.2 355.1 L393.8 355.5 L395.4 355.7 L397.0 355.2 L398.6 355.4 L400.2 355.7 L401.7 355.5 L403.3 355.0 L404.9 355.2 L406.5 355.0 L408.1 355.2 L409.7 355.2 L411.2 355.1 L412.8 355.1 L414.4 354.4 L416.0 354.5 L417.6 354.1 L419.2 353.7 L420.7 353.7 L422.3 353.7 L423.9 353.2 L425.5 353.3 L427.1 353.5 L428.7 353.3 L430.2 353.2 L431.8 352.9 L433.4 353.1 L435.0 352.7 L436.6 352.7 L438.2 352.7 L439.7 352.2 L441.3 352.6 L442.9 352.3 L444.5 352.6 L446.1 352.7 L447.7 352.7 L449.2 352.6 L450.8 352.2 L452.4 352.1 L454.0 351.9 L455.6 352.2 L457.2 351.7 L458.7 351.5 L460.3 351.9 L461.9 352.1 L463.5 352.1 L465.1 352.2 L466.7 352.0 L468.2 352.1 L469.8 351.9 L471.4 352.1 L473.0 351.6 L474.6 351.6 L476.2 351.6 L477.7 351.8 L479.3 351.6 L480.9 351.6 L482.5 351.8 L484.1 351.5 L485.7 351.2 L487.2 351.0 L488.8 351.3 L490.4 351.3 L492.0 351.3 L493.6 351.4 L495.2 351.2 L496.7 351.2 L498.3 351.3 L499.9 351.3 L501.5 351.7 L503.1 351.5 L504.7 351.3 L506.2 351.7 L507.8 351.7 L509.4 351.4 L511.0 351.6 L512.6 351.7 L514.2 351.8 L515.7 351.9 L517.3 351.7 L518.9 351.5 L520.5 351.7 L522.1 351.7 L523.7 351.8 L525.2 351.5 L526.8 351.5 L528.4 351.7 L530.0 351.6 L531.6 351.7 L533.2 351.6 L534.7 351.8 L536.3 351.5 L537.9 351.3 L539.5 351.4 L541.1 351.2 L542.7 351.1 L544.2 351.3 L545.8 351.1 L547.4 351.4 L549.0 351.3 L550.6 351.5 L552.2 351.5 L553.7 351.3 L555.3 351.4 L556.9 351.5 L558.5 351.4 L560.1 351.4 L561.7 351.2 L563.2 351.4 L564.8 351.1 L566.4 351.2 L568.0 350.9 L569.6 350.9 L571.2 350.7 L572.7 350.6 L574.3 350.7 L575.9 350.9 L577.5 350.7 L579.1 350.6 L580.7 350.6 L582.2 350.6 L583.8 350.5 L585.4 350.4 L586.0 350.4" fill="none" stroke="#cd77a9" stroke-width="1.6" stroke-linejoin="round" stroke-linecap="round"/>
<path d="M112.2 376.0 L113.0 357.9 L113.7 335.0 L114.5 328.8 L115.3 337.1 L116.1 334.0 L116.9 326.7 L117.6 320.9 L118.2 324.6 L118.9 329.8 L120.0 336.0 L121.0 340.2 L122.6 348.5 L123.6 352.7 L125.2 350.6 L126.8 351.7 L128.3 346.5 L129.4 340.2 L130.4 338.1 L132.0 337.1 L134.0 337.1 L136.1 336.6 L138.2 337.6 L140.3 337.6 L142.4 336.0 L144.5 334.0 L146.5 333.4 L148.6 334.0 L150.0 335.2 L151.6 335.3 L153.2 336.8 L154.7 337.5 L156.3 339.5 L157.9 340.1 L159.5 341.3 L161.1 340.5 L162.7 340.4 L164.2 340.8 L165.8 340.7 L167.4 340.3 L169.0 340.4 L170.6 340.2 L172.2 340.4 L173.7 340.7 L175.3 341.7 L176.9 342.4 L178.5 342.9 L180.1 342.8 L181.7 343.7 L183.2 344.1 L184.8 343.7 L186.4 343.6 L188.0 343.5 L189.6 342.9 L191.2 343.1 L192.7 342.8 L194.3 343.2 L195.9 344.0 L197.5 344.3 L199.1 344.5 L200.7 345.3 L202.2 346.0 L203.8 346.3 L205.4 347.1 L207.0 346.9 L208.6 346.5 L210.2 346.2 L211.7 346.7 L213.3 347.1 L214.9 347.5 L216.5 347.5 L218.1 347.5 L219.7 347.4 L221.2 346.4 L222.8 345.6 L224.4 345.2 L226.0 345.4 L227.6 345.8 L229.2 345.7 L230.7 345.6 L232.3 345.6 L233.9 345.3 L235.5 346.0 L237.1 346.0 L238.7 346.1 L240.2 346.3 L241.8 347.4 L243.4 346.9 L245.0 346.6 L246.6 344.8 L248.2 344.2 L249.7 343.5 L251.3 343.8 L252.9 344.0 L254.5 343.8 L256.1 343.3 L257.7 343.3 L259.2 343.1 L260.8 343.3 L262.4 343.3 L264.0 342.9 L265.6 342.2 L267.2 341.3 L268.7 341.5 L270.3 341.4 L271.9 340.9 L273.5 340.9 L275.1 340.9 L276.7 341.7 L278.2 341.4 L279.8 341.4 L281.4 342.0 L283.0 342.1 L284.6 342.1 L286.2 342.2 L287.7 342.0 L289.3 341.9 L290.9 341.5 L292.5 341.2 L294.1 341.0 L295.7 341.2 L297.2 341.5 L298.8 341.5 L300.4 341.8 L302.0 342.3 L303.6 342.6 L305.2 342.4 L306.7 341.9 L308.3 342.2 L309.9 342.5 L311.5 342.9 L313.1 343.1 L314.7 342.5 L316.2 342.8 L317.8 342.6 L319.4 342.4 L321.0 342.3 L322.6 342.0 L324.2 341.8 L325.7 342.4 L327.3 342.1 L328.9 342.4 L330.5 342.4 L332.1 342.1 L333.7 341.9 L335.2 342.1 L336.8 342.3 L338.4 342.0 L340.0 341.7 L341.6 341.6 L343.2 342.1 L344.7 342.2 L346.3 341.7 L347.9 342.1 L349.5 342.0 L351.1 341.7 L352.7 342.0 L354.2 341.4 L355.8 341.0 L357.4 341.0 L359.0 341.5 L360.6 341.8 L362.2 342.1 L363.7 342.7 L365.3 342.6 L366.9 342.8 L368.5 342.4 L370.1 342.8 L371.7 342.5 L373.2 342.8 L374.8 343.1 L376.4 343.1 L378.0 343.1 L379.6 343.1 L381.2 343.2 L382.7 343.0 L384.3 342.8 L385.9 343.0 L387.5 343.0 L389.1 342.7 L390.7 342.9 L392.2 342.9 L393.8 342.7 L395.4 343.0 L397.0 343.3 L398.6 343.1 L400.2 343.5 L401.7 343.8 L403.3 343.6 L404.9 343.2 L406.5 343.0 L408.1 342.7 L409.7 342.6 L411.2 343.1 L412.8 342.6 L414.4 343.0 L416.0 343.1 L417.6 343.2 L419.2 342.8 L420.7 343.0 L422.3 342.8 L423.9 343.0 L425.5 343.3 L427.1 343.3 L428.7 343.3 L430.2 343.5 L431.8 343.2 L433.4 342.9 L435.0 343.4 L436.6 343.0 L438.2 343.2 L439.7 343.4 L441.3 343.9 L442.9 343.9 L444.5 344.1 L446.1 344.2 L447.7 344.5 L449.2 344.8 L450.8 345.1 L452.4 345.5 L454.0 345.7 L455.6 345.9 L457.2 346.4 L458.7 346.8 L460.3 346.6 L461.9 346.8 L463.5 346.3 L465.1 346.2 L466.7 346.5 L468.2 346.2 L469.8 346.3 L471.4 346.8 L473.0 346.8 L474.6 346.8 L476.2 346.7 L477.7 346.8 L479.3 347.0 L480.9 347.3 L482.5 347.2 L484.1 347.4 L485.7 347.4 L487.2 347.5 L488.8 347.7 L490.4 347.4 L492.0 347.8 L493.6 347.7 L495.2 347.7 L496.7 348.0 L498.3 347.9 L499.9 347.9 L501.5 347.7 L503.1 347.5 L504.7 347.8 L506.2 347.8 L507.8 347.9 L509.4 347.9 L511.0 348.0 L512.6 347.8 L514.2 348.1 L515.7 348.1 L517.3 347.9 L518.9 348.3 L520.5 348.5 L522.1 348.2 L523.7 348.6 L525.2 348.7 L526.8 348.5 L528.4 348.6 L530.0 348.9 L531.6 348.7 L533.2 348.9 L534.7 348.8 L536.3 348.8 L537.9 349.3 L539.5 349.6 L541.1 349.6 L542.7 349.7 L544.2 349.5 L545.8 349.4 L547.4 349.5 L549.0 349.7 L550.6 349.8 L552.2 349.7 L553.7 349.8 L555.3 349.7 L556.9 349.9 L558.5 350.0 L560.1 350.1 L561.7 349.9 L563.2 349.8 L564.8 350.1 L566.4 350.0 L568.0 350.0 L569.6 349.8 L571.2 349.7 L572.7 349.8 L574.3 350.0 L575.9 350.0 L577.5 350.2 L579.1 350.0 L580.7 350.3 L582.2 350.4 L583.8 350.3 L585.4 350.4 L586.0 350.4" fill="none" stroke="#089a6f" stroke-width="1.8" stroke-linejoin="round" stroke-linecap="round"/>
<line x1="111.0" y1="344.23" x2="586.0" y2="344.23" stroke="#111" stroke-width="1.3" stroke-dasharray="10.9 6.63" stroke-dashoffset="16.13"/>
<path d="M111.0 282.0 L111.0 468.7 L586.0 468.7" fill="none" stroke="#383838" stroke-width="1.7"/>
<line x1="105.7" y1="282.0" x2="111.0" y2="282.0" stroke="#383838" stroke-width="1.7"/>
<text x="99.2" y="289.8" transform="matrix(1 0 0 1.03 0 -8.480)" font-size="20" text-anchor="end" fill="#111">0.5</text>
<line x1="105.7" y1="344.2" x2="111.0" y2="344.2" stroke="#383838" stroke-width="1.7"/>
<text x="99.2" y="352.0" transform="matrix(1 0 0 1.03 0 -10.347)" font-size="20" text-anchor="end" fill="#111">0.0</text>
<line x1="105.7" y1="406.5" x2="111.0" y2="406.5" stroke="#383838" stroke-width="1.7"/>
<text x="99.2" y="414.3" transform="matrix(1 0 0 1.03 0 -12.214)" font-size="20" text-anchor="end" fill="#111">-0.5</text>
<line x1="105.7" y1="468.7" x2="111.0" y2="468.7" stroke="#383838" stroke-width="1.7"/>
<text x="99.2" y="476.5" transform="matrix(1 0 0 1.03 0 -14.081)" font-size="20" text-anchor="end" fill="#111">-1.0</text>
<line x1="111.0" y1="468.7" x2="111.0" y2="474.5" stroke="#383838" stroke-width="1.7"/>
<line x1="190.2" y1="468.7" x2="190.2" y2="474.5" stroke="#383838" stroke-width="1.7"/>
<line x1="269.3" y1="468.7" x2="269.3" y2="474.5" stroke="#383838" stroke-width="1.7"/>
<line x1="348.5" y1="468.7" x2="348.5" y2="474.5" stroke="#383838" stroke-width="1.7"/>
<line x1="427.7" y1="468.7" x2="427.7" y2="474.5" stroke="#383838" stroke-width="1.7"/>
<line x1="506.8" y1="468.7" x2="506.8" y2="474.5" stroke="#383838" stroke-width="1.7"/>
<line x1="586.0" y1="468.7" x2="586.0" y2="474.5" stroke="#383838" stroke-width="1.7"/>
<text transform="translate(48.2 377.6) rotate(-90) scale(1.035 1)" font-size="20" text-anchor="middle" fill="#111">Bias (°)</text>
<text x="583.7" y="305.3" transform="matrix(1 0 0 1.025 0 -7.339)" font-size="33.6" font-weight="bold" letter-spacing="-0.45" text-anchor="end" fill="#000">-22.5°</text>
<path d="M112.2 565.6 L113.0 561.5 L113.7 559.4 L114.5 555.2 L115.1 559.4 L115.5 564.6 L116.1 570.8 L116.9 571.9 L117.9 569.8 L119.5 567.7 L121.0 568.2 L122.1 571.9 L123.6 575.5 L125.2 578.1 L126.8 583.3 L128.3 582.8 L129.9 582.3 L131.4 584.4 L133.0 587.0 L135.1 589.1 L136.6 590.1 L138.2 589.1 L140.3 588.5 L141.9 587.5 L143.4 589.1 L145.5 588.5 L147.6 587.5 L149.7 589.1 L150.0 589.8 L151.6 590.4 L153.2 590.7 L154.7 592.4 L156.3 592.7 L157.9 593.2 L159.5 594.4 L161.1 594.1 L162.7 594.4 L164.2 595.2 L165.8 595.7 L167.4 594.4 L169.0 593.8 L170.6 594.2 L172.2 594.7 L173.7 595.4 L175.3 595.5 L176.9 595.0 L178.5 595.7 L180.1 596.1 L181.7 596.4 L183.2 596.7 L184.8 597.8 L186.4 598.4 L188.0 599.4 L189.6 599.3 L191.2 599.4 L192.7 598.8 L194.3 599.2 L195.9 599.7 L197.5 599.7 L199.1 600.6 L200.7 600.4 L202.2 600.6 L203.8 600.8 L205.4 600.7 L207.0 600.3 L208.6 600.9 L210.2 601.1 L211.7 600.8 L213.3 600.6 L214.9 601.2 L216.5 601.1 L218.1 602.1 L219.7 601.9 L221.2 601.5 L222.8 601.0 L224.4 601.3 L226.0 601.9 L227.6 601.8 L229.2 601.5 L230.7 601.4 L232.3 600.8 L233.9 600.9 L235.5 600.8 L237.1 600.7 L238.7 601.0 L240.2 601.2 L241.8 601.4 L243.4 602.0 L245.0 601.7 L246.6 601.8 L248.2 601.9 L249.7 602.6 L251.3 603.2 L252.9 603.2 L254.5 603.2 L256.1 602.9 L257.7 603.5 L259.2 603.1 L260.8 603.2 L262.4 603.0 L264.0 602.8 L265.6 602.5 L267.2 602.1 L268.7 601.7 L270.3 602.0 L271.9 602.4 L273.5 602.4 L275.1 601.9 L276.7 602.1 L278.2 601.6 L279.8 601.7 L281.4 602.1 L283.0 602.2 L284.6 601.6 L286.2 601.5 L287.7 601.4 L289.3 601.7 L290.9 602.0 L292.5 602.4 L294.1 602.2 L295.7 601.8 L297.2 602.0 L298.8 602.1 L300.4 601.9 L302.0 602.1 L303.6 602.2 L305.2 601.9 L306.7 602.2 L308.3 601.7 L309.9 601.9 L311.5 601.9 L313.1 601.6 L314.7 601.3 L316.2 601.6 L317.8 601.5 L319.4 601.4 L321.0 601.1 L322.6 601.7 L324.2 601.4 L325.7 601.0 L327.3 600.9 L328.9 600.9 L330.5 601.4 L332.1 601.0 L333.7 600.9 L335.2 600.7 L336.8 600.9 L338.4 600.7 L340.0 600.8 L341.6 601.2 L343.2 601.6 L344.7 601.7 L346.3 601.1 L347.9 601.1 L349.5 601.5 L351.1 601.1 L352.7 601.0 L354.2 601.2 L355.8 601.3 L357.4 601.6 L359.0 601.8 L360.6 601.6 L362.2 601.4 L363.7 601.3 L365.3 601.4 L366.9 601.2 L368.5 601.7 L370.1 601.5 L371.7 602.0 L373.2 602.1 L374.8 601.7 L376.4 601.9 L378.0 602.1 L379.6 601.8 L381.2 602.0 L382.7 601.8 L384.3 602.2 L385.9 601.9 L387.5 602.2 L389.1 602.7 L390.7 602.8 L392.2 602.5 L393.8 602.5 L395.4 602.2 L397.0 602.2 L398.6 602.5 L400.2 602.7 L401.7 602.1 L403.3 602.1 L404.9 602.3 L406.5 602.0 L408.1 602.4 L409.7 602.6 L411.2 602.5 L412.8 602.3 L414.4 602.6 L416.0 602.5 L417.6 602.3 L419.2 602.3 L420.7 602.2 L422.3 602.7 L423.9 602.7 L425.5 602.9 L427.1 603.0 L428.7 603.1 L430.2 602.6 L431.8 602.4 L433.4 602.7 L435.0 602.7 L436.6 602.4 L438.2 602.5 L439.7 602.4 L441.3 602.3 L442.9 602.3 L444.5 602.5 L446.1 602.6 L447.7 602.9 L449.2 603.4 L450.8 603.2 L452.4 603.4 L454.0 603.7 L455.6 603.8 L457.2 603.8 L458.7 604.1 L460.3 603.7 L461.9 604.1 L463.5 604.1 L465.1 604.2 L466.7 604.3 L468.2 603.8 L469.8 603.6 L471.4 603.8 L473.0 604.2 L474.6 604.8 L476.2 605.2 L477.7 605.1 L479.3 605.2 L480.9 605.3 L482.5 605.2 L484.1 605.5 L485.7 605.7 L487.2 605.7 L488.8 605.9 L490.4 605.9 L492.0 605.8 L493.6 605.6 L495.2 605.5 L496.7 605.4 L498.3 605.3 L499.9 605.8 L501.5 605.8 L503.1 605.6 L504.7 605.7 L506.2 605.7 L507.8 605.9 L509.4 606.0 L511.0 606.0 L512.6 606.2 L514.2 606.3 L515.7 606.3 L517.3 606.6 L518.9 606.4 L520.5 606.5 L522.1 606.8 L523.7 607.0 L525.2 606.8 L526.8 606.5 L528.4 606.9 L530.0 606.9 L531.6 606.7 L533.2 606.6 L534.7 606.6 L536.3 606.5 L537.9 606.2 L539.5 606.0 L541.1 606.5 L542.7 606.7 L544.2 606.4 L545.8 606.4 L547.4 606.6 L549.0 606.6 L550.6 606.3 L552.2 606.4 L553.7 606.4 L555.3 606.8 L556.9 606.8 L558.5 606.7 L560.1 606.8 L561.7 606.6 L563.2 606.8 L564.8 607.0 L566.4 607.0 L568.0 606.9 L569.6 606.9 L571.2 606.8 L572.7 606.8 L574.3 606.8 L575.9 607.0 L577.5 607.4 L579.1 607.3 L580.7 607.5 L582.2 607.7 L583.8 607.8 L585.4 607.9 L586.0 608.0" fill="none" stroke="#000" stroke-width="1.8" stroke-linejoin="round" stroke-linecap="round"/>
<path d="M111.6 669.5 L112.6 669.2 L114.0 640.0 L114.5 634.5 L115.2 633.5 L115.8 635.4 L116.3 628.1 L117.4 622.9 L118.4 618.8 L119.5 617.7 L121.5 618.2 L123.6 620.3 L125.7 618.8 L127.8 617.2 L129.9 615.1 L132.0 616.7 L134.0 616.1 L136.1 615.1 L138.2 613.5 L140.3 612.5 L142.4 613.3 L144.5 612.0 L146.5 611.5 L148.6 610.4 L150.0 610.8 L151.6 609.9 L153.2 609.4 L154.7 610.4 L156.3 610.3 L157.9 610.5 L159.5 611.4 L161.1 611.2 L162.7 612.5 L164.2 612.3 L165.8 612.4 L167.4 611.9 L169.0 611.9 L170.6 612.4 L172.2 612.6 L173.7 613.0 L175.3 613.3 L176.9 613.1 L178.5 614.2 L180.1 614.6 L181.7 614.7 L183.2 614.8 L184.8 615.3 L186.4 615.1 L188.0 615.3 L189.6 615.2 L191.2 615.3 L192.7 614.9 L194.3 615.1 L195.9 615.3 L197.5 615.2 L199.1 615.8 L200.7 615.5 L202.2 615.9 L203.8 616.3 L205.4 616.3 L207.0 615.7 L208.6 616.4 L210.2 616.8 L211.7 616.7 L213.3 616.7 L214.9 617.4 L216.5 617.4 L218.1 618.0 L219.7 617.8 L221.2 617.7 L222.8 617.7 L224.4 618.0 L226.0 618.5 L227.6 618.2 L229.2 618.2 L230.7 618.4 L232.3 617.8 L233.9 617.6 L235.5 617.3 L237.1 617.2 L238.7 617.4 L240.2 617.5 L241.8 617.4 L243.4 618.4 L245.0 618.3 L246.6 618.2 L248.2 618.2 L249.7 618.7 L251.3 619.0 L252.9 618.8 L254.5 618.6 L256.1 618.2 L257.7 618.7 L259.2 618.3 L260.8 618.5 L262.4 618.4 L264.0 618.3 L265.6 618.2 L267.2 617.9 L268.7 617.5 L270.3 617.6 L271.9 617.7 L273.5 617.5 L275.1 617.1 L276.7 617.3 L278.2 616.9 L279.8 617.1 L281.4 617.7 L283.0 618.0 L284.6 617.7 L286.2 617.8 L287.7 617.5 L289.3 617.4 L290.9 617.3 L292.5 617.6 L294.1 617.4 L295.7 617.0 L297.2 616.9 L298.8 616.7 L300.4 616.3 L302.0 616.3 L303.6 616.3 L305.2 616.0 L306.7 616.0 L308.3 615.1 L309.9 615.0 L311.5 615.0 L313.1 614.8 L314.7 614.5 L316.2 614.6 L317.8 614.3 L319.4 614.0 L321.0 613.6 L322.6 614.4 L324.2 614.3 L325.7 614.0 L327.3 614.0 L328.9 614.0 L330.5 614.5 L332.1 614.1 L333.7 614.0 L335.2 613.8 L336.8 614.0 L338.4 613.8 L340.0 613.8 L341.6 614.2 L343.2 614.5 L344.7 614.5 L346.3 613.9 L347.9 613.8 L349.5 614.2 L351.1 613.6 L352.7 613.5 L354.2 613.6 L355.8 613.6 L357.4 613.8 L359.0 613.9 L360.6 613.7 L362.2 613.4 L363.7 613.0 L365.3 612.6 L366.9 612.3 L368.5 612.6 L370.1 612.3 L371.7 612.7 L373.2 612.6 L374.8 612.1 L376.4 612.2 L378.0 612.2 L379.6 611.8 L381.2 611.9 L382.7 611.5 L384.3 611.9 L385.9 611.4 L387.5 611.7 L389.1 612.1 L390.7 612.2 L392.2 611.7 L393.8 611.7 L395.4 611.3 L397.0 611.3 L398.6 611.6 L400.2 611.7 L401.7 611.1 L403.3 611.0 L404.9 611.1 L406.5 610.8 L408.1 611.1 L409.7 611.2 L411.2 611.0 L412.8 610.7 L414.4 610.9 L416.0 610.7 L417.6 610.3 L419.2 610.2 L420.7 610.0 L422.3 610.3 L423.9 610.2 L425.5 610.3 L427.1 610.4 L428.7 610.5 L430.2 610.0 L431.8 609.9 L433.4 610.1 L435.0 610.1 L436.6 609.8 L438.2 609.9 L439.7 609.6 L441.3 609.5 L442.9 609.3 L444.5 609.4 L446.1 609.4 L447.7 609.6 L449.2 610.1 L450.8 609.8 L452.4 610.0 L454.0 610.3 L455.6 610.4 L457.2 610.4 L458.7 610.6 L460.3 610.2 L461.9 610.5 L463.5 610.4 L465.1 610.3 L466.7 610.2 L468.2 609.6 L469.8 609.2 L471.4 609.2 L473.0 609.5 L474.6 609.9 L476.2 610.2 L477.7 610.0 L479.3 609.9 L480.9 610.0 L482.5 609.7 L484.1 610.0 L485.7 610.1 L487.2 610.0 L488.8 610.1 L490.4 610.0 L492.0 609.9 L493.6 609.7 L495.2 609.5 L496.7 609.4 L498.3 609.2 L499.9 609.7 L501.5 609.5 L503.1 609.3 L504.7 609.3 L506.2 609.2 L507.8 609.4 L509.4 609.4 L511.0 609.3 L512.6 609.5 L514.2 609.5 L515.7 609.5 L517.3 609.7 L518.9 609.6 L520.5 609.6 L522.1 609.8 L523.7 610.0 L525.2 609.7 L526.8 609.3 L528.4 609.6 L530.0 609.5 L531.6 609.3 L533.2 609.1 L534.7 609.0 L536.3 609.3 L537.9 609.5 L539.5 609.5 L541.1 610.0 L542.7 610.1 L544.2 609.7 L545.8 609.7 L547.4 609.8 L549.0 609.7 L550.6 609.4 L552.2 609.4 L553.7 609.4 L555.3 609.7 L556.9 609.6 L558.5 609.5 L560.1 609.5 L561.7 609.2 L563.2 609.3 L564.8 609.4 L566.4 609.4 L568.0 609.2 L569.6 609.0 L571.2 608.8 L572.7 608.6 L574.3 608.6 L575.9 608.7 L577.5 608.9 L579.1 608.6 L580.7 608.5 L582.2 608.4 L583.8 608.2 L585.4 608.0 L586.0 608.0" fill="none" stroke="#000" stroke-width="1.8" stroke-linejoin="round" stroke-linecap="round"/>
<path d="M112.4 616.7 L113.2 614.6 L114.2 612.5 L115.3 609.4 L116.3 604.2 L117.4 599.0 L118.4 593.8 L119.5 589.6 L120.5 586.5 L121.5 589.6 L122.6 592.7 L124.1 594.8 L125.7 596.4 L127.3 597.9 L128.8 599.0 L130.4 600.0 L132.0 601.6 L133.5 603.1 L135.1 602.6 L137.2 602.1 L139.2 601.6 L141.3 601.0 L143.4 599.0 L145.5 598.4 L147.6 597.4 L149.7 599.0 L150.0 599.3 L151.6 599.9 L153.2 599.7 L154.7 600.7 L156.3 600.5 L157.9 601.2 L159.5 601.4 L161.1 602.4 L162.7 602.1 L164.2 602.1 L165.8 603.0 L167.4 602.7 L169.0 602.0 L170.6 602.3 L172.2 602.8 L173.7 602.3 L175.3 602.4 L176.9 602.7 L178.5 602.6 L180.1 602.6 L181.7 602.6 L183.2 603.6 L184.8 603.2 L186.4 603.8 L188.0 604.3 L189.6 603.9 L191.2 603.9 L192.7 603.9 L194.3 604.2 L195.9 604.4 L197.5 605.1 L199.1 605.6 L200.7 605.4 L202.2 606.0 L203.8 605.7 L205.4 605.7 L207.0 606.4 L208.6 607.2 L210.2 607.8 L211.7 608.4 L213.3 608.8 L214.9 608.6 L216.5 609.2 L218.1 609.7 L219.7 609.2 L221.2 609.4 L222.8 609.5 L224.4 609.7 L226.0 610.4 L227.6 611.0 L229.2 611.7 L230.7 611.3 L232.3 611.2 L233.9 611.5 L235.5 611.5 L237.1 611.6 L238.7 611.5 L240.2 611.6 L241.8 611.2 L243.4 611.4 L245.0 611.5 L246.6 611.6 L248.2 612.2 L249.7 612.2 L251.3 612.4 L252.9 612.9 L254.5 612.7 L256.1 612.8 L257.7 613.3 L259.2 613.5 L260.8 613.8 L262.4 613.3 L264.0 613.1 L265.6 612.6 L267.2 612.7 L268.7 612.5 L270.3 612.5 L271.9 612.7 L273.5 612.1 L275.1 612.9 L276.7 613.0 L278.2 613.3 L279.8 613.3 L281.4 613.4 L283.0 613.0 L284.6 612.4 L286.2 611.6 L287.7 611.4 L289.3 611.4 L290.9 611.4 L292.5 611.9 L294.1 612.0 L295.7 611.9 L297.2 611.2 L298.8 611.0 L300.4 611.2 L302.0 611.4 L303.6 611.3 L305.2 611.4 L306.7 611.6 L308.3 611.1 L309.9 610.9 L311.5 611.1 L313.1 610.9 L314.7 611.1 L316.2 610.7 L317.8 610.0 L319.4 610.0 L321.0 609.7 L322.6 610.3 L324.2 610.6 L325.7 610.6 L327.3 610.8 L328.9 610.3 L330.5 610.2 L332.1 609.8 L333.7 609.5 L335.2 610.0 L336.8 609.5 L338.4 609.9 L340.0 609.9 L341.6 610.0 L343.2 609.5 L344.7 610.0 L346.3 610.1 L347.9 609.6 L349.5 609.4 L351.1 609.3 L352.7 609.4 L354.2 609.1 L355.8 609.5 L357.4 609.5 L359.0 609.6 L360.6 609.2 L362.2 609.3 L363.7 609.1 L365.3 609.1 L366.9 608.9 L368.5 609.1 L370.1 609.1 L371.7 609.0 L373.2 608.5 L374.8 608.2 L376.4 608.1 L378.0 608.1 L379.6 608.8 L381.2 608.6 L382.7 609.1 L384.3 608.8 L385.9 609.0 L387.5 608.8 L389.1 608.7 L390.7 609.0 L392.2 609.1 L393.8 609.3 L395.4 609.0 L397.0 608.9 L398.6 608.7 L400.2 608.8 L401.7 609.4 L403.3 609.4 L404.9 609.2 L406.5 609.1 L408.1 609.2 L409.7 609.3 L411.2 608.9 L412.8 608.6 L414.4 608.4 L416.0 608.8 L417.6 608.8 L419.2 608.4 L420.7 608.2 L422.3 608.1 L423.9 608.2 L425.5 608.3 L427.1 607.9 L428.7 607.7 L430.2 607.5 L431.8 607.9 L433.4 607.7 L435.0 607.9 L436.6 607.4 L438.2 607.5 L439.7 607.5 L441.3 607.8 L442.9 607.5 L444.5 607.3 L446.1 607.6 L447.7 607.8 L449.2 607.6 L450.8 607.5 L452.4 607.3 L454.0 607.4 L455.6 607.8 L457.2 607.7 L458.7 607.7 L460.3 607.8 L461.9 607.7 L463.5 607.6 L465.1 607.8 L466.7 608.2 L468.2 608.4 L469.8 608.2 L471.4 608.3 L473.0 608.4 L474.6 608.3 L476.2 608.1 L477.7 607.9 L479.3 608.1 L480.9 608.1 L482.5 607.8 L484.1 607.6 L485.7 607.4 L487.2 607.8 L488.8 608.0 L490.4 607.8 L492.0 607.8 L493.6 607.8 L495.2 607.5 L496.7 607.5 L498.3 607.5 L499.9 607.7 L501.5 607.4 L503.1 607.6 L504.7 607.3 L506.2 607.4 L507.8 607.6 L509.4 607.2 L511.0 607.2 L512.6 607.0 L514.2 607.2 L515.7 607.3 L517.3 607.6 L518.9 607.5 L520.5 607.8 L522.1 607.8 L523.7 607.9 L525.2 607.7 L526.8 607.5 L528.4 607.8 L530.0 607.6 L531.6 607.9 L533.2 607.8 L534.7 608.0 L536.3 608.0 L537.9 608.0 L539.5 607.5 L541.1 607.3 L542.7 607.3 L544.2 607.6 L545.8 607.3 L547.4 607.3 L549.0 607.3 L550.6 607.1 L552.2 607.3 L553.7 607.2 L555.3 607.3 L556.9 607.5 L558.5 607.6 L560.1 607.4 L561.7 607.5 L563.2 607.5 L564.8 607.7 L566.4 607.4 L568.0 607.4 L569.6 607.7 L571.2 607.7 L572.7 607.8 L574.3 607.8 L575.9 607.9 L577.5 608.1 L579.1 608.2 L580.7 608.2 L582.2 608.2 L583.8 608.0 L585.4 607.9 L586.0 608.0" fill="none" stroke="#cd77a9" stroke-width="1.6" stroke-linejoin="round" stroke-linecap="round"/>
<path d="M112.2 627.1 L112.7 617.7 L113.4 600.0 L114.0 581.2 L114.5 564.6 L115.1 576.0 L115.5 589.6 L116.1 600.0 L116.9 595.8 L117.6 593.8 L118.4 597.9 L119.5 599.0 L121.0 598.4 L122.6 597.4 L124.1 601.0 L125.7 604.2 L127.3 602.6 L128.8 599.5 L130.4 596.4 L132.0 599.5 L133.5 602.1 L135.1 603.1 L137.2 602.1 L139.2 601.6 L141.3 601.0 L143.4 603.6 L145.5 604.2 L147.6 603.1 L149.7 602.6 L150.0 602.6 L151.6 604.0 L153.2 604.6 L154.7 603.9 L156.3 604.5 L157.9 606.0 L159.5 604.7 L161.1 604.5 L162.7 603.7 L164.2 603.9 L165.8 605.1 L167.4 604.8 L169.0 603.8 L170.6 604.2 L172.2 604.9 L173.7 605.2 L175.3 606.0 L176.9 606.6 L178.5 607.4 L180.1 607.4 L181.7 607.9 L183.2 608.6 L184.8 608.7 L186.4 609.8 L188.0 610.2 L189.6 609.4 L191.2 609.3 L192.7 608.8 L194.3 608.8 L195.9 609.0 L197.5 609.7 L199.1 609.3 L200.7 609.4 L202.2 609.4 L203.8 608.8 L205.4 609.2 L207.0 608.5 L208.6 608.1 L210.2 608.5 L211.7 608.0 L213.3 608.4 L214.9 608.8 L216.5 609.0 L218.1 609.1 L219.7 609.1 L221.2 609.0 L222.8 608.2 L224.4 608.4 L226.0 607.7 L227.6 607.2 L229.2 607.2 L230.7 607.5 L232.3 607.3 L233.9 606.8 L235.5 606.6 L237.1 606.5 L238.7 607.0 L240.2 607.0 L241.8 606.9 L243.4 607.0 L245.0 607.1 L246.6 607.8 L248.2 608.4 L249.7 608.7 L251.3 608.3 L252.9 608.2 L254.5 608.8 L256.1 608.5 L257.7 608.0 L259.2 608.1 L260.8 608.2 L262.4 608.1 L264.0 607.9 L265.6 607.6 L267.2 607.5 L268.7 607.2 L270.3 607.0 L271.9 606.5 L273.5 606.1 L275.1 606.5 L276.7 605.8 L278.2 606.1 L279.8 606.1 L281.4 606.5 L283.0 606.5 L284.6 606.3 L286.2 606.2 L287.7 605.7 L289.3 605.2 L290.9 605.5 L292.5 605.2 L294.1 605.0 L295.7 605.5 L297.2 605.7 L298.8 605.4 L300.4 605.7 L302.0 605.4 L303.6 605.8 L305.2 605.3 L306.7 605.9 L308.3 606.0 L309.9 605.7 L311.5 605.7 L313.1 606.2 L314.7 606.3 L316.2 605.9 L317.8 606.0 L319.4 606.0 L321.0 605.8 L322.6 606.1 L324.2 606.3 L325.7 606.1 L327.3 606.2 L328.9 606.4 L330.5 606.6 L332.1 606.0 L333.7 605.6 L335.2 606.1 L336.8 605.8 L338.4 605.5 L340.0 605.9 L341.6 605.6 L343.2 605.9 L344.7 606.0 L346.3 605.7 L347.9 605.7 L349.5 605.6 L351.1 605.9 L352.7 605.7 L354.2 605.6 L355.8 606.0 L357.4 605.7 L359.0 605.7 L360.6 605.8 L362.2 605.4 L363.7 605.3 L365.3 605.7 L366.9 606.0 L368.5 605.7 L370.1 605.6 L371.7 605.1 L373.2 605.3 L374.8 605.2 L376.4 605.2 L378.0 605.0 L379.6 604.9 L381.2 605.2 L382.7 605.3 L384.3 604.9 L385.9 604.6 L387.5 604.4 L389.1 604.4 L390.7 604.4 L392.2 604.8 L393.8 605.0 L395.4 604.8 L397.0 605.2 L398.6 605.3 L400.2 605.3 L401.7 605.5 L403.3 605.1 L404.9 605.3 L406.5 605.4 L408.1 605.4 L409.7 604.7 L411.2 604.9 L412.8 605.1 L414.4 604.6 L416.0 605.0 L417.6 605.1 L419.2 604.7 L420.7 605.0 L422.3 605.2 L423.9 605.3 L425.5 604.9 L427.1 605.3 L428.7 604.9 L430.2 604.7 L431.8 605.2 L433.4 605.1 L435.0 604.9 L436.6 604.9 L438.2 605.2 L439.7 605.1 L441.3 605.6 L442.9 605.7 L444.5 605.6 L446.1 605.6 L447.7 605.4 L449.2 606.0 L450.8 605.8 L452.4 606.2 L454.0 606.2 L455.6 606.2 L457.2 606.0 L458.7 606.1 L460.3 606.0 L461.9 606.1 L463.5 606.4 L465.1 606.7 L466.7 606.4 L468.2 606.3 L469.8 606.7 L471.4 606.5 L473.0 606.6 L474.6 606.9 L476.2 607.1 L477.7 607.6 L479.3 607.2 L480.9 607.5 L482.5 607.5 L484.1 607.2 L485.7 607.2 L487.2 607.6 L488.8 607.4 L490.4 607.5 L492.0 607.4 L493.6 607.6 L495.2 607.9 L496.7 608.1 L498.3 608.0 L499.9 608.0 L501.5 608.3 L503.1 608.5 L504.7 608.4 L506.2 608.1 L507.8 608.5 L509.4 608.4 L511.0 608.4 L512.6 608.2 L514.2 608.1 L515.7 608.1 L517.3 608.4 L518.9 608.4 L520.5 608.7 L522.1 608.5 L523.7 608.7 L525.2 608.4 L526.8 608.5 L528.4 608.8 L530.0 608.6 L531.6 608.5 L533.2 608.4 L534.7 608.7 L536.3 608.7 L537.9 608.5 L539.5 608.5 L541.1 608.4 L542.7 608.7 L544.2 608.6 L545.8 608.3 L547.4 608.3 L549.0 608.2 L550.6 608.5 L552.2 608.3 L553.7 608.4 L555.3 608.5 L556.9 608.2 L558.5 608.4 L560.1 608.5 L561.7 608.7 L563.2 608.8 L564.8 608.8 L566.4 608.6 L568.0 608.4 L569.6 608.3 L571.2 608.0 L572.7 608.1 L574.3 608.3 L575.9 608.1 L577.5 608.2 L579.1 608.0 L580.7 607.9 L582.2 607.9 L583.8 608.0 L585.4 608.0 L586.0 608.0" fill="none" stroke="#089a6f" stroke-width="1.8" stroke-linejoin="round" stroke-linecap="round"/>
<line x1="111.0" y1="617.63" x2="586.0" y2="617.63" stroke="#111" stroke-width="1.3" stroke-dasharray="10.9 6.63" stroke-dashoffset="16.13"/>
<path d="M111.0 555.3 L111.0 742.3 L586.0 742.3" fill="none" stroke="#383838" stroke-width="1.7"/>
<line x1="105.7" y1="555.3" x2="111.0" y2="555.3" stroke="#383838" stroke-width="1.7"/>
<text x="99.2" y="563.1" transform="matrix(1 0 0 1.03 0 -16.679)" font-size="20" text-anchor="end" fill="#111">0.5</text>
<line x1="105.7" y1="617.6" x2="111.0" y2="617.6" stroke="#383838" stroke-width="1.7"/>
<text x="99.2" y="625.4" transform="matrix(1 0 0 1.03 0 -18.549)" font-size="20" text-anchor="end" fill="#111">0.0</text>
<line x1="105.7" y1="680.0" x2="111.0" y2="680.0" stroke="#383838" stroke-width="1.7"/>
<text x="99.2" y="687.8" transform="matrix(1 0 0 1.03 0 -20.419)" font-size="20" text-anchor="end" fill="#111">-0.5</text>
<line x1="105.7" y1="742.3" x2="111.0" y2="742.3" stroke="#383838" stroke-width="1.7"/>
<text x="99.2" y="750.1" transform="matrix(1 0 0 1.03 0 -22.289)" font-size="20" text-anchor="end" fill="#111">-1.0</text>
<line x1="111.0" y1="742.3" x2="111.0" y2="748.1" stroke="#383838" stroke-width="1.7"/>
<line x1="190.2" y1="742.3" x2="190.2" y2="748.1" stroke="#383838" stroke-width="1.7"/>
<line x1="269.3" y1="742.3" x2="269.3" y2="748.1" stroke="#383838" stroke-width="1.7"/>
<line x1="348.5" y1="742.3" x2="348.5" y2="748.1" stroke="#383838" stroke-width="1.7"/>
<line x1="427.7" y1="742.3" x2="427.7" y2="748.1" stroke="#383838" stroke-width="1.7"/>
<line x1="506.8" y1="742.3" x2="506.8" y2="748.1" stroke="#383838" stroke-width="1.7"/>
<line x1="586.0" y1="742.3" x2="586.0" y2="748.1" stroke="#383838" stroke-width="1.7"/>
<text transform="translate(48.2 651.0) rotate(-90) scale(1.035 1)" font-size="20" text-anchor="middle" fill="#111">Bias (°)</text>
<text x="585.4" y="577.6" transform="matrix(1 0 0 1.025 0 -14.146)" font-size="33.6" font-weight="bold" letter-spacing="-0.45" text-anchor="end" fill="#000">22.5°</text>
<path d="M104.0 900.8 L105.6 900.1 L105.7 882.9 L106.0 887.0 L106.5 878.8 L107.3 877.2 L108.3 875.6 L109.4 875.1 L109.9 876.7 L110.4 882.9 L110.9 887.1 L111.5 884.0 L112.5 881.9 L114.1 879.8 L115.6 879.3 L117.2 879.8 L118.2 877.7 L119.3 878.8 L120.3 877.2 L121.9 876.7 L122.9 878.8 L124.5 880.3 L126.0 878.8 L127.6 877.2 L129.2 876.7 L130.7 874.6 L132.3 875.4 L133.9 875.6 L135.9 875.1 L138.0 874.6 L140.1 874.1 L141.7 873.0 L143.2 873.5 L144.8 874.1 L146.4 873.0 L147.9 875.1 L149.5 876.7 L150.0 876.4 L151.6 876.5 L153.2 876.2 L154.7 877.3 L156.3 876.5 L157.9 876.5 L159.5 876.0 L161.1 876.4 L162.7 877.0 L164.2 877.1 L165.8 877.0 L167.4 876.6 L169.0 875.6 L170.6 875.2 L172.2 875.9 L173.7 875.7 L175.3 875.1 L176.9 875.4 L178.5 875.5 L180.1 875.6 L181.7 875.8 L183.2 875.1 L184.8 875.0 L186.4 875.2 L188.0 876.4 L189.6 876.1 L191.2 876.2 L192.7 876.1 L194.3 875.6 L195.9 875.1 L197.5 875.3 L199.1 875.8 L200.7 876.4 L202.2 877.6 L203.8 877.4 L205.4 878.1 L207.0 878.6 L208.6 878.7 L210.2 879.0 L211.7 879.4 L213.3 879.6 L214.9 879.6 L216.5 879.7 L218.1 879.8 L219.7 880.1 L221.2 880.9 L222.8 880.8 L224.4 880.6 L226.0 880.9 L227.6 881.5 L229.2 881.6 L230.7 880.7 L232.3 880.3 L233.9 880.2 L235.5 880.8 L237.1 880.5 L238.7 880.7 L240.2 881.0 L241.8 881.0 L243.4 880.9 L245.0 880.8 L246.6 881.6 L248.2 881.8 L249.7 882.1 L251.3 881.9 L252.9 882.2 L254.5 882.6 L256.1 882.9 L257.7 883.2 L259.2 883.5 L260.8 883.4 L262.4 883.7 L264.0 884.2 L265.6 884.1 L267.2 884.7 L268.7 884.6 L270.3 884.7 L271.9 884.9 L273.5 884.8 L275.1 884.2 L276.7 884.0 L278.2 883.6 L279.8 883.3 L281.4 884.0 L283.0 884.0 L284.6 884.4 L286.2 884.5 L287.7 884.2 L289.3 884.8 L290.9 885.1 L292.5 884.6 L294.1 883.9 L295.7 883.6 L297.2 883.4 L298.8 883.3 L300.4 883.0 L302.0 883.4 L303.6 883.8 L305.2 883.3 L306.7 883.6 L308.3 883.5 L309.9 883.4 L311.5 883.8 L313.1 883.5 L314.7 883.7 L316.2 883.2 L317.8 883.8 L319.4 883.4 L321.0 883.1 L322.6 883.8 L324.2 884.0 L325.7 884.1 L327.3 884.2 L328.9 884.1 L330.5 883.9 L332.1 884.1 L333.7 884.9 L335.2 885.4 L336.8 884.9 L338.4 884.9 L340.0 884.9 L341.6 885.3 L343.2 884.8 L344.7 885.2 L346.3 885.0 L347.9 885.1 L349.5 884.8 L351.1 884.6 L352.7 885.2 L354.2 885.1 L355.8 885.6 L357.4 885.7 L359.0 885.7 L360.6 885.2 L362.2 885.4 L363.7 885.8 L365.3 885.7 L366.9 885.3 L368.5 885.2 L370.1 885.8 L371.7 886.2 L373.2 885.8 L374.8 885.7 L376.4 885.9 L378.0 885.8 L379.6 885.6 L381.2 886.1 L382.7 886.0 L384.3 885.8 L385.9 885.4 L387.5 885.5 L389.1 885.7 L390.7 885.3 L392.2 885.0 L393.8 885.3 L395.4 885.6 L397.0 885.3 L398.6 885.2 L400.2 885.3 L401.7 885.2 L403.3 884.8 L404.9 884.8 L406.5 884.8 L408.1 884.8 L409.7 884.8 L411.2 885.0 L412.8 885.0 L414.4 885.5 L416.0 885.4 L417.6 885.8 L419.2 885.9 L420.7 885.6 L422.3 885.4 L423.9 885.6 L425.5 885.7 L427.1 885.8 L428.7 885.6 L430.2 885.7 L431.8 886.0 L433.4 885.9 L435.0 885.8 L436.6 886.2 L438.2 886.0 L439.7 886.4 L441.3 886.4 L442.9 885.9 L444.5 886.0 L446.1 885.9 L447.7 886.2 L449.2 886.2 L450.8 886.0 L452.4 886.5 L454.0 886.7 L455.6 886.7 L457.2 886.7 L458.7 886.4 L460.3 886.8 L461.9 886.3 L463.5 886.2 L465.1 886.0 L466.7 885.7 L468.2 885.6 L469.8 886.2 L471.4 886.3 L473.0 886.3 L474.6 886.8 L476.2 887.1 L477.7 887.2 L479.3 887.4 L480.9 887.2 L482.5 886.9 L484.1 887.0 L485.7 887.3 L487.2 887.5 L488.8 887.7 L490.4 887.7 L492.0 887.7 L493.6 887.7 L495.2 887.7 L496.7 887.3 L498.3 887.4 L499.9 887.3 L501.5 887.2 L503.1 887.4 L504.7 887.7 L506.2 887.6 L507.8 887.7 L509.4 887.8 L511.0 887.9 L512.6 888.0 L514.2 888.0 L515.7 887.6 L517.3 887.8 L518.9 887.7 L520.5 887.7 L522.1 887.8 L523.7 887.6 L525.2 887.7 L526.8 887.9 L528.4 887.5 L530.0 887.7 L531.6 887.6 L533.2 887.4 L534.7 887.5 L536.3 887.2 L537.9 887.2 L539.5 887.6 L541.1 887.6 L542.7 887.4 L544.2 887.3 L545.8 887.4 L547.4 887.5 L549.0 887.8 L550.6 887.5 L552.2 887.6 L553.7 887.5 L555.3 887.5 L556.9 887.8 L558.5 887.5 L560.1 887.8 L561.7 888.0 L563.2 887.9 L564.8 887.8 L566.4 888.2 L568.0 888.5 L569.6 888.5 L571.2 888.4 L572.7 888.6 L574.3 888.8 L575.9 888.9 L577.5 890.0 L578.4 890.6" fill="none" stroke="#000" stroke-width="1.8" stroke-linejoin="round" stroke-linecap="round"/>
<path d="M104.2 994.5 L104.8 994.3 L105.6 970.0 L106.0 959.9 L107.7 932.0 L109.5 930.0 L111.2 932.0 L112.6 926.2 L114.7 925.1 L118.1 926.2 L119.3 923.5 L120.8 922.5 L121.6 921.7 L122.4 923.0 L124.0 925.6 L124.5 925.1 L125.5 922.5 L127.1 920.9 L129.2 918.3 L131.2 916.2 L133.3 914.2 L135.4 913.1 L137.5 913.6 L139.6 912.1 L141.7 911.0 L143.8 909.0 L145.8 906.9 L147.4 909.0 L149.0 908.4 L150.0 907.7 L151.6 907.0 L153.2 905.9 L154.7 906.5 L156.3 905.6 L157.9 905.3 L159.5 904.4 L161.1 904.2 L162.7 904.2 L164.2 903.4 L165.8 903.2 L167.4 902.8 L169.0 901.7 L170.6 900.8 L172.2 901.1 L173.7 900.5 L175.3 899.8 L176.9 900.0 L178.5 900.0 L180.1 900.0 L181.7 900.0 L183.2 899.1 L184.8 898.1 L186.4 897.4 L188.0 897.8 L189.6 897.4 L191.2 897.4 L192.7 897.2 L194.3 897.0 L195.9 896.8 L197.5 897.2 L199.1 897.6 L200.7 898.3 L202.2 899.4 L203.8 899.1 L205.4 899.8 L207.0 900.1 L208.6 900.2 L210.2 900.4 L211.7 900.7 L213.3 900.7 L214.9 900.4 L216.5 900.3 L218.1 900.1 L219.7 900.1 L221.2 900.6 L222.8 900.2 L224.4 899.6 L226.0 899.6 L227.6 899.7 L229.2 899.3 L230.7 898.8 L232.3 898.4 L233.9 898.2 L235.5 898.6 L237.1 898.1 L238.7 898.1 L240.2 898.3 L241.8 898.4 L243.4 898.4 L245.0 898.2 L246.6 899.0 L248.2 899.0 L249.7 899.4 L251.3 899.2 L252.9 899.7 L254.5 899.7 L256.1 899.3 L257.7 899.0 L259.2 898.8 L260.8 898.4 L262.4 898.3 L264.0 898.6 L265.6 898.3 L267.2 898.8 L268.7 898.5 L270.3 898.3 L271.9 898.3 L273.5 898.1 L275.1 897.4 L276.7 897.1 L278.2 896.7 L279.8 896.5 L281.4 897.2 L283.0 896.9 L284.6 897.0 L286.2 896.7 L287.7 896.1 L289.3 896.3 L290.9 896.2 L292.5 895.9 L294.1 895.4 L295.7 895.3 L297.2 895.0 L298.8 895.0 L300.4 894.7 L302.0 895.1 L303.6 895.5 L305.2 895.0 L306.7 895.2 L308.3 895.1 L309.9 894.9 L311.5 895.1 L313.1 894.7 L314.7 894.9 L316.2 894.2 L317.8 894.7 L319.4 894.3 L321.0 893.9 L322.6 894.5 L324.2 894.7 L325.7 894.7 L327.3 894.8 L328.9 894.5 L330.5 894.1 L332.1 894.0 L333.7 894.5 L335.2 894.8 L336.8 894.3 L338.4 894.2 L340.0 894.2 L341.6 894.6 L343.2 894.1 L344.7 894.5 L346.3 894.3 L347.9 894.5 L349.5 894.4 L351.1 894.3 L352.7 895.1 L354.2 895.2 L355.8 895.5 L357.4 895.5 L359.0 895.4 L360.6 894.8 L362.2 894.8 L363.7 895.2 L365.3 894.9 L366.9 894.4 L368.5 894.3 L370.1 894.8 L371.7 895.0 L373.2 894.5 L374.8 894.3 L376.4 894.4 L378.0 894.2 L379.6 893.8 L381.2 894.2 L382.7 894.0 L384.3 893.7 L385.9 893.2 L387.5 893.2 L389.1 893.4 L390.7 892.9 L392.2 892.6 L393.8 893.0 L395.4 893.3 L397.0 893.1 L398.6 893.0 L400.2 893.1 L401.7 893.1 L403.3 892.8 L404.9 892.7 L406.5 892.6 L408.1 892.5 L409.7 892.4 L411.2 892.5 L412.8 892.5 L414.4 892.9 L416.0 892.7 L417.6 893.1 L419.2 893.2 L420.7 892.8 L422.3 892.6 L423.9 892.7 L425.5 892.7 L427.1 892.8 L428.7 892.5 L430.2 892.7 L431.8 892.9 L433.4 892.8 L435.0 892.6 L436.6 893.0 L438.2 892.8 L439.7 893.0 L441.3 892.9 L442.9 892.3 L444.5 892.3 L446.1 892.0 L447.7 892.3 L449.2 892.1 L450.8 891.8 L452.4 892.2 L454.0 892.3 L455.6 892.2 L457.2 892.1 L458.7 891.7 L460.3 892.1 L461.9 892.0 L463.5 892.2 L465.1 892.3 L466.7 892.4 L468.2 892.1 L469.8 892.5 L471.4 892.4 L473.0 892.2 L474.6 892.5 L476.2 892.6 L477.7 892.5 L479.3 892.6 L480.9 892.2 L482.5 891.8 L484.1 891.7 L485.7 891.8 L487.2 891.9 L488.8 891.9 L490.4 891.8 L492.0 891.7 L493.6 891.7 L495.2 891.6 L496.7 891.2 L498.3 891.3 L499.9 891.1 L501.5 890.9 L503.1 891.1 L504.7 891.3 L506.2 891.1 L507.8 891.2 L509.4 891.2 L511.0 891.2 L512.6 891.3 L514.2 891.3 L515.7 890.8 L517.3 890.8 L518.9 890.7 L520.5 890.6 L522.1 890.6 L523.7 890.3 L525.2 890.5 L526.8 890.9 L528.4 890.7 L530.0 891.2 L531.6 891.4 L533.2 891.4 L534.7 891.6 L536.3 891.2 L537.9 891.1 L539.5 891.4 L541.1 891.4 L542.7 891.1 L544.2 890.9 L545.8 890.9 L547.4 891.0 L549.0 891.3 L550.6 890.9 L552.2 891.0 L553.7 890.9 L555.3 890.9 L556.9 891.1 L558.5 890.8 L560.1 891.0 L561.7 891.1 L563.2 890.9 L564.8 890.8 L566.4 891.0 L568.0 891.2 L569.6 890.9 L571.2 890.5 L572.7 890.5 L574.3 890.4 L575.9 890.1 L577.5 890.4 L578.4 890.6" fill="none" stroke="#000" stroke-width="1.8" stroke-linejoin="round" stroke-linecap="round"/>
<path d="M104.2 936.0 L104.6 934.2 L107.0 907.8 L108.4 898.8 L111.2 897.4 L112.5 887.1 L112.6 887.0 L113.5 885.0 L115.1 886.0 L116.7 889.2 L118.2 887.1 L119.3 888.1 L120.8 889.7 L122.4 890.7 L124.0 892.3 L125.5 891.8 L126.6 890.7 L127.6 887.1 L129.2 888.1 L131.2 887.6 L133.3 887.1 L135.4 887.6 L137.0 886.6 L138.5 887.9 L140.6 886.6 L142.7 886.0 L144.3 885.5 L145.8 885.0 L146.9 886.2 L147.9 887.9 L150.0 887.6 L151.6 888.1 L153.2 888.3 L154.7 888.3 L156.3 888.7 L157.9 888.2 L159.5 888.6 L161.1 888.4 L162.7 888.3 L164.2 888.1 L165.8 888.2 L167.4 887.7 L169.0 887.5 L170.6 887.3 L172.2 887.1 L173.7 886.6 L175.3 885.5 L176.9 884.6 L178.5 884.2 L180.1 884.2 L181.7 884.4 L183.2 884.4 L184.8 884.4 L186.4 884.0 L188.0 884.4 L189.6 884.6 L191.2 884.9 L192.7 885.3 L194.3 885.6 L195.9 885.4 L197.5 885.4 L199.1 885.9 L200.7 886.6 L202.2 887.3 L203.8 888.7 L205.4 889.5 L207.0 890.4 L208.6 891.4 L210.2 891.4 L211.7 891.6 L213.3 892.0 L214.9 892.8 L216.5 893.2 L218.1 893.0 L219.7 893.5 L221.2 893.4 L222.8 894.0 L224.4 893.7 L226.0 894.3 L227.6 894.9 L229.2 893.6 L230.7 893.1 L232.3 893.0 L233.9 893.3 L235.5 893.5 L237.1 893.6 L238.7 893.4 L240.2 893.6 L241.8 893.5 L243.4 893.8 L245.0 893.9 L246.6 893.7 L248.2 894.3 L249.7 894.0 L251.3 894.1 L252.9 894.5 L254.5 894.7 L256.1 895.2 L257.7 895.2 L259.2 895.5 L260.8 895.0 L262.4 895.4 L264.0 895.0 L265.6 894.6 L267.2 894.6 L268.7 894.7 L270.3 894.2 L271.9 894.0 L273.5 893.8 L275.1 894.2 L276.7 894.1 L278.2 893.7 L279.8 893.7 L281.4 893.2 L283.0 893.1 L284.6 893.2 L286.2 893.6 L287.7 893.8 L289.3 893.6 L290.9 893.7 L292.5 893.1 L294.1 893.2 L295.7 893.4 L297.2 892.7 L298.8 893.0 L300.4 893.1 L302.0 892.5 L303.6 892.6 L305.2 892.7 L306.7 891.9 L308.3 891.7 L309.9 891.6 L311.5 891.9 L313.1 891.7 L314.7 892.1 L316.2 892.3 L317.8 892.5 L319.4 892.5 L321.0 892.6 L322.6 892.4 L324.2 892.3 L325.7 892.2 L327.3 892.1 L328.9 892.0 L330.5 892.0 L332.1 891.9 L333.7 891.6 L335.2 891.7 L336.8 892.1 L338.4 891.8 L340.0 892.2 L341.6 892.2 L343.2 891.9 L344.7 891.5 L346.3 891.9 L347.9 892.2 L349.5 891.8 L351.1 892.0 L352.7 892.2 L354.2 892.2 L355.8 891.9 L357.4 891.8 L359.0 892.2 L360.6 892.4 L362.2 892.5 L363.7 892.3 L365.3 892.7 L366.9 892.8 L368.5 892.7 L370.1 893.0 L371.7 892.7 L373.2 892.8 L374.8 892.8 L376.4 893.1 L378.0 893.1 L379.6 892.6 L381.2 892.7 L382.7 892.2 L384.3 892.4 L385.9 892.4 L387.5 892.2 L389.1 891.4 L390.7 891.2 L392.2 890.9 L393.8 891.0 L395.4 890.7 L397.0 890.6 L398.6 890.5 L400.2 891.0 L401.7 891.0 L403.3 891.2 L404.9 891.4 L406.5 891.2 L408.1 891.3 L409.7 891.1 L411.2 891.1 L412.8 890.8 L414.4 890.8 L416.0 890.6 L417.6 890.8 L419.2 891.3 L420.7 891.6 L422.3 891.6 L423.9 891.1 L425.5 891.5 L427.1 891.4 L428.7 891.5 L430.2 891.3 L431.8 891.5 L433.4 891.3 L435.0 891.0 L436.6 891.1 L438.2 891.0 L439.7 890.9 L441.3 890.8 L442.9 891.1 L444.5 891.2 L446.1 890.9 L447.7 891.1 L449.2 890.7 L450.8 891.0 L452.4 890.6 L454.0 890.6 L455.6 890.4 L457.2 890.5 L458.7 890.3 L460.3 890.0 L461.9 890.5 L463.5 890.7 L465.1 890.7 L466.7 891.1 L468.2 891.3 L469.8 891.3 L471.4 891.4 L473.0 891.1 L474.6 890.9 L476.2 890.7 L477.7 891.1 L479.3 890.8 L480.9 890.6 L482.5 890.7 L484.1 890.3 L485.7 890.5 L487.2 890.3 L488.8 889.8 L490.4 889.9 L492.0 889.8 L493.6 889.3 L495.2 889.2 L496.7 889.3 L498.3 888.9 L499.9 888.7 L501.5 888.9 L503.1 888.5 L504.7 888.5 L506.2 888.3 L507.8 888.5 L509.4 888.6 L511.0 888.5 L512.6 888.3 L514.2 888.3 L515.7 888.6 L517.3 888.6 L518.9 888.8 L520.5 888.4 L522.1 888.7 L523.7 888.7 L525.2 888.6 L526.8 888.7 L528.4 888.3 L530.0 888.4 L531.6 888.3 L533.2 888.1 L534.7 888.4 L536.3 888.2 L537.9 888.5 L539.5 888.4 L541.1 888.7 L542.7 888.4 L544.2 888.4 L545.8 888.7 L547.4 888.6 L549.0 888.6 L550.6 888.5 L552.2 888.5 L553.7 888.4 L555.3 888.3 L556.9 888.2 L558.5 888.5 L560.1 888.4 L561.7 888.5 L563.2 888.8 L564.8 888.9 L566.4 888.9 L568.0 888.9 L569.6 888.9 L571.2 889.0 L572.7 888.8 L574.3 888.9 L575.9 889.2 L577.5 890.1 L578.4 890.6" fill="none" stroke="#cd77a9" stroke-width="1.6" stroke-linejoin="round" stroke-linecap="round"/>
<path d="M104.2 953.5 L104.6 952.6 L107.0 909.2 L108.4 908.1 L110.8 921.7 L114.7 921.7 L118.2 916.2 L119.8 913.1 L121.4 910.0 L121.6 909.2 L122.4 909.5 L124.0 912.1 L125.5 910.0 L127.1 909.0 L128.6 907.4 L130.2 903.8 L131.8 902.7 L133.3 901.7 L135.4 901.7 L137.5 900.1 L139.6 897.5 L141.7 895.9 L143.8 895.4 L145.8 894.9 L147.9 896.5 L150.0 896.3 L151.6 895.9 L153.2 895.7 L154.7 895.7 L156.3 894.9 L157.9 894.5 L159.5 893.3 L161.1 892.5 L162.7 891.8 L164.2 891.6 L165.8 890.5 L167.4 889.8 L169.0 889.7 L170.6 889.5 L172.2 890.2 L173.7 890.4 L175.3 891.1 L176.9 890.5 L178.5 891.0 L180.1 890.7 L181.7 890.2 L183.2 890.4 L184.8 889.5 L186.4 889.0 L188.0 888.7 L189.6 888.2 L191.2 887.9 L192.7 887.5 L194.3 888.1 L195.9 887.6 L197.5 887.4 L199.1 887.1 L200.7 887.6 L202.2 887.3 L203.8 887.1 L205.4 886.9 L207.0 886.3 L208.6 886.3 L210.2 886.4 L211.7 886.6 L213.3 887.3 L214.9 888.2 L216.5 888.1 L218.1 887.9 L219.7 887.8 L221.2 887.7 L222.8 887.6 L224.4 887.4 L226.0 886.7 L227.6 886.6 L229.2 886.9 L230.7 886.7 L232.3 886.5 L233.9 885.7 L235.5 885.7 L237.1 885.3 L238.7 885.6 L240.2 885.9 L241.8 885.4 L243.4 885.9 L245.0 885.5 L246.6 886.0 L248.2 885.5 L249.7 885.4 L251.3 886.2 L252.9 886.4 L254.5 886.1 L256.1 886.5 L257.7 887.2 L259.2 887.1 L260.8 887.6 L262.4 887.6 L264.0 887.7 L265.6 887.8 L267.2 887.5 L268.7 887.8 L270.3 888.2 L271.9 888.6 L273.5 888.5 L275.1 888.0 L276.7 888.0 L278.2 887.8 L279.8 888.3 L281.4 887.8 L283.0 888.0 L284.6 887.3 L286.2 887.3 L287.7 887.3 L289.3 887.3 L290.9 887.5 L292.5 887.6 L294.1 886.9 L295.7 887.3 L297.2 887.1 L298.8 886.5 L300.4 886.7 L302.0 886.9 L303.6 886.7 L305.2 887.0 L306.7 886.6 L308.3 886.7 L309.9 886.6 L311.5 886.8 L313.1 886.4 L314.7 886.0 L316.2 886.4 L317.8 886.1 L319.4 886.1 L321.0 886.3 L322.6 886.0 L324.2 886.3 L325.7 886.5 L327.3 886.4 L328.9 886.6 L330.5 886.9 L332.1 886.4 L333.7 887.0 L335.2 887.0 L336.8 887.2 L338.4 887.3 L340.0 887.5 L341.6 887.4 L343.2 887.0 L344.7 886.7 L346.3 886.7 L347.9 886.6 L349.5 886.5 L351.1 886.7 L352.7 886.7 L354.2 886.6 L355.8 886.8 L357.4 886.5 L359.0 886.8 L360.6 887.0 L362.2 887.4 L363.7 887.8 L365.3 888.0 L366.9 887.5 L368.5 887.7 L370.1 887.6 L371.7 887.6 L373.2 887.8 L374.8 887.5 L376.4 887.8 L378.0 887.6 L379.6 887.4 L381.2 887.4 L382.7 887.0 L384.3 886.9 L385.9 887.3 L387.5 886.8 L389.1 886.7 L390.7 886.8 L392.2 886.7 L393.8 886.8 L395.4 887.0 L397.0 887.2 L398.6 887.0 L400.2 886.8 L401.7 886.5 L403.3 886.9 L404.9 886.7 L406.5 886.9 L408.1 886.7 L409.7 887.1 L411.2 887.1 L412.8 886.8 L414.4 887.1 L416.0 886.9 L417.6 887.0 L419.2 887.0 L420.7 887.3 L422.3 887.4 L423.9 887.2 L425.5 887.2 L427.1 887.3 L428.7 887.6 L430.2 887.5 L431.8 887.7 L433.4 887.4 L435.0 887.3 L436.6 887.7 L438.2 887.7 L439.7 887.5 L441.3 887.5 L442.9 887.8 L444.5 887.7 L446.1 887.9 L447.7 888.4 L449.2 888.1 L450.8 888.2 L452.4 888.3 L454.0 888.2 L455.6 888.8 L457.2 888.7 L458.7 888.6 L460.3 888.8 L461.9 888.4 L463.5 888.5 L465.1 888.3 L466.7 888.3 L468.2 888.2 L469.8 888.8 L471.4 888.8 L473.0 889.0 L474.6 888.9 L476.2 888.8 L477.7 888.9 L479.3 889.2 L480.9 889.0 L482.5 889.2 L484.1 889.7 L485.7 889.7 L487.2 889.6 L488.8 890.1 L490.4 890.0 L492.0 890.1 L493.6 890.2 L495.2 890.2 L496.7 890.0 L498.3 890.3 L499.9 890.3 L501.5 890.6 L503.1 890.7 L504.7 890.2 L506.2 890.3 L507.8 890.2 L509.4 889.7 L511.0 889.4 L512.6 889.5 L514.2 889.6 L515.7 889.3 L517.3 889.1 L518.9 889.4 L520.5 889.1 L522.1 889.0 L523.7 888.9 L525.2 889.0 L526.8 889.3 L528.4 889.4 L530.0 889.5 L531.6 890.2 L533.2 890.3 L534.7 890.3 L536.3 890.2 L537.9 890.5 L539.5 890.5 L541.1 890.4 L542.7 890.1 L544.2 890.3 L545.8 890.1 L547.4 890.3 L549.0 889.9 L550.6 889.9 L552.2 890.0 L553.7 889.9 L555.3 890.0 L556.9 890.2 L558.5 890.1 L560.1 889.8 L561.7 890.1 L563.2 890.1 L564.8 890.0 L566.4 890.0 L568.0 889.8 L569.6 889.8 L571.2 889.6 L572.7 889.5 L574.3 889.6 L575.9 889.4 L577.5 890.1 L578.4 890.6" fill="none" stroke="#089a6f" stroke-width="1.8" stroke-linejoin="round" stroke-linecap="round"/>
<line x1="103.2" y1="891.00" x2="578.5" y2="891.00" stroke="#111" stroke-width="1.3" stroke-dasharray="10.9 6.63" stroke-dashoffset="16.13"/>
<path d="M103.2 828.7 L103.2 1015.5 L578.5 1015.5" fill="none" stroke="#383838" stroke-width="1.7"/>
<line x1="97.9" y1="828.7" x2="103.2" y2="828.7" stroke="#383838" stroke-width="1.7"/>
<text x="91.4" y="836.5" transform="matrix(1 0 0 1.03 0 -24.881)" font-size="20" text-anchor="end" fill="#111">0.5</text>
<line x1="97.9" y1="891.0" x2="103.2" y2="891.0" stroke="#383838" stroke-width="1.7"/>
<text x="91.4" y="898.8" transform="matrix(1 0 0 1.03 0 -26.749)" font-size="20" text-anchor="end" fill="#111">0.0</text>
<line x1="97.9" y1="953.2" x2="103.2" y2="953.2" stroke="#383838" stroke-width="1.7"/>
<text x="91.4" y="961.0" transform="matrix(1 0 0 1.03 0 -28.617)" font-size="20" text-anchor="end" fill="#111">-0.5</text>
<line x1="97.9" y1="1015.5" x2="103.2" y2="1015.5" stroke="#383838" stroke-width="1.7"/>
<text x="91.4" y="1023.3" transform="matrix(1 0 0 1.03 0 -30.485)" font-size="20" text-anchor="end" fill="#111">-1.0</text>
<line x1="103.2" y1="1015.5" x2="103.2" y2="1021.3" stroke="#383838" stroke-width="1.7"/>
<text x="104.7" y="1046.7" transform="matrix(1 0 0 1.03 0 -31.187)" font-size="20" text-anchor="middle" fill="#111">0</text>
<line x1="182.4" y1="1015.5" x2="182.4" y2="1021.3" stroke="#383838" stroke-width="1.7"/>
<text x="182.1" y="1046.7" transform="matrix(1 0 0 1.03 0 -31.187)" font-size="20" text-anchor="middle" fill="#111">50</text>
<line x1="261.6" y1="1015.5" x2="261.6" y2="1021.3" stroke="#383838" stroke-width="1.7"/>
<text x="261.3" y="1046.7" transform="matrix(1 0 0 1.03 0 -31.187)" font-size="20" text-anchor="middle" fill="#111">100</text>
<line x1="340.9" y1="1015.5" x2="340.9" y2="1021.3" stroke="#383838" stroke-width="1.7"/>
<text x="340.6" y="1046.7" transform="matrix(1 0 0 1.03 0 -31.187)" font-size="20" text-anchor="middle" fill="#111">150</text>
<line x1="420.1" y1="1015.5" x2="420.1" y2="1021.3" stroke="#383838" stroke-width="1.7"/>
<text x="419.8" y="1046.7" transform="matrix(1 0 0 1.03 0 -31.187)" font-size="20" text-anchor="middle" fill="#111">200</text>
<line x1="499.3" y1="1015.5" x2="499.3" y2="1021.3" stroke="#383838" stroke-width="1.7"/>
<text x="499.0" y="1046.7" transform="matrix(1 0 0 1.03 0 -31.187)" font-size="20" text-anchor="middle" fill="#111">250</text>
<line x1="578.5" y1="1015.5" x2="578.5" y2="1021.3" stroke="#383838" stroke-width="1.7"/>
<text x="578.2" y="1046.7" transform="matrix(1 0 0 1.03 0 -31.187)" font-size="20" text-anchor="middle" fill="#111">300</text>
<text transform="translate(40.4 924.3) rotate(-90) scale(1.035 1)" font-size="20" text-anchor="middle" fill="#111">Bias (°)</text>
<text x="577.0" y="852.4" transform="matrix(1 0 0 1.025 0 -21.016)" font-size="33.6" font-weight="bold" letter-spacing="-0.45" text-anchor="end" fill="#000">67.5°</text>
<path d="M224.80 409.50L233.60 409.50M226.09 406.39L232.31 412.61M229.20 405.10L229.20 413.90M232.31 406.39L226.09 412.61M227.10 409.50L235.90 409.50M228.39 406.39L234.61 412.61M231.50 405.10L231.50 413.90M234.61 406.39L228.39 412.61M231.40 409.50L240.20 409.50M232.69 406.39L238.91 412.61M235.80 405.10L235.80 413.90M238.91 406.39L232.69 412.61M233.00 409.50L241.80 409.50M234.29 406.39L240.51 412.61M237.40 405.10L237.40 413.90M240.51 406.39L234.29 412.61M239.40 409.50L248.20 409.50M240.69 406.39L246.91 412.61M243.80 405.10L243.80 413.90M246.91 406.39L240.69 412.61M240.98 409.50L249.78 409.50M242.27 406.39L248.49 412.61M245.38 405.10L245.38 413.90M248.49 406.39L242.27 412.61M242.57 409.50L251.37 409.50M243.86 406.39L250.08 412.61M246.97 405.10L246.97 413.90M250.08 406.39L243.86 412.61M244.15 409.50L252.95 409.50M245.44 406.39L251.66 412.61M248.55 405.10L248.55 413.90M251.66 406.39L245.44 412.61M245.73 409.50L254.53 409.50M247.02 406.39L253.24 412.61M250.13 405.10L250.13 413.90M253.24 406.39L247.02 412.61M247.32 409.50L256.12 409.50M248.61 406.39L254.83 412.61M251.72 405.10L251.72 413.90M254.83 406.39L248.61 412.61M248.90 409.50L257.70 409.50M250.19 406.39L256.41 412.61M253.30 405.10L253.30 413.90M256.41 406.39L250.19 412.61M250.48 409.50L259.28 409.50M251.77 406.39L257.99 412.61M254.88 405.10L254.88 413.90M257.99 406.39L251.77 412.61M252.07 409.50L260.87 409.50M253.36 406.39L259.58 412.61M256.47 405.10L256.47 413.90M259.58 406.39L253.36 412.61M253.65 409.50L262.45 409.50M254.94 406.39L261.16 412.61M258.05 405.10L258.05 413.90M261.16 406.39L254.94 412.61M255.23 409.50L264.03 409.50M256.52 406.39L262.74 412.61M259.63 405.10L259.63 413.90M262.74 406.39L256.52 412.61M256.82 409.50L265.62 409.50M258.11 406.39L264.33 412.61M261.22 405.10L261.22 413.90M264.33 406.39L258.11 412.61M258.40 409.50L267.20 409.50M259.69 406.39L265.91 412.61M262.80 405.10L262.80 413.90M265.91 406.39L259.69 412.61M259.98 409.50L268.78 409.50M261.27 406.39L267.49 412.61M264.38 405.10L264.38 413.90M267.49 406.39L261.27 412.61M261.57 409.50L270.37 409.50M262.86 406.39L269.08 412.61M265.97 405.10L265.97 413.90M269.08 406.39L262.86 412.61M263.15 409.50L271.95 409.50M264.44 406.39L270.66 412.61M267.55 405.10L267.55 413.90M270.66 406.39L264.44 412.61M264.73 409.50L273.53 409.50M266.02 406.39L272.24 412.61M269.13 405.10L269.13 413.90M272.24 406.39L266.02 412.61M266.32 409.50L275.12 409.50M267.61 406.39L273.83 412.61M270.72 405.10L270.72 413.90M273.83 406.39L267.61 412.61M267.90 409.50L276.70 409.50M269.19 406.39L275.41 412.61M272.30 405.10L272.30 413.90M275.41 406.39L269.19 412.61M269.48 409.50L278.28 409.50M270.77 406.39L276.99 412.61M273.88 405.10L273.88 413.90M276.99 406.39L270.77 412.61M271.07 409.50L279.87 409.50M272.36 406.39L278.58 412.61M275.47 405.10L275.47 413.90M278.58 406.39L272.36 412.61M272.65 409.50L281.45 409.50M273.94 406.39L280.16 412.61M277.05 405.10L277.05 413.90M280.16 406.39L273.94 412.61M274.23 409.50L283.03 409.50M275.52 406.39L281.74 412.61M278.63 405.10L278.63 413.90M281.74 406.39L275.52 412.61M275.82 409.50L284.62 409.50M277.11 406.39L283.33 412.61M280.22 405.10L280.22 413.90M283.33 406.39L277.11 412.61M277.40 409.50L286.20 409.50M278.69 406.39L284.91 412.61M281.80 405.10L281.80 413.90M284.91 406.39L278.69 412.61M278.98 409.50L287.78 409.50M280.27 406.39L286.49 412.61M283.38 405.10L283.38 413.90M286.49 406.39L280.27 412.61M280.57 409.50L289.37 409.50M281.86 406.39L288.08 412.61M284.97 405.10L284.97 413.90M288.08 406.39L281.86 412.61M282.15 409.50L290.95 409.50M283.44 406.39L289.66 412.61M286.55 405.10L286.55 413.90M289.66 406.39L283.44 412.61M283.73 409.50L292.53 409.50M285.02 406.39L291.24 412.61M288.13 405.10L288.13 413.90M291.24 406.39L285.02 412.61M285.32 409.50L294.12 409.50M286.61 406.39L292.83 412.61M289.72 405.10L289.72 413.90M292.83 406.39L286.61 412.61M286.90 409.50L295.70 409.50M288.19 406.39L294.41 412.61M291.30 405.10L291.30 413.90M294.41 406.39L288.19 412.61M288.48 409.50L297.28 409.50M289.77 406.39L295.99 412.61M292.88 405.10L292.88 413.90M295.99 406.39L289.77 412.61M290.07 409.50L298.87 409.50M291.36 406.39L297.58 412.61M294.47 405.10L294.47 413.90M297.58 406.39L291.36 412.61M291.65 409.50L300.45 409.50M292.94 406.39L299.16 412.61M296.05 405.10L296.05 413.90M299.16 406.39L292.94 412.61M293.23 409.50L302.03 409.50M294.52 406.39L300.74 412.61M297.63 405.10L297.63 413.90M300.74 406.39L294.52 412.61M294.82 409.50L303.62 409.50M296.11 406.39L302.33 412.61M299.22 405.10L299.22 413.90M302.33 406.39L296.11 412.61M296.40 409.50L305.20 409.50M297.69 406.39L303.91 412.61M300.80 405.10L300.80 413.90M303.91 406.39L297.69 412.61M297.98 409.50L306.78 409.50M299.27 406.39L305.49 412.61M302.38 405.10L302.38 413.90M305.49 406.39L299.27 412.61M299.57 409.50L308.37 409.50M300.86 406.39L307.08 412.61M303.97 405.10L303.97 413.90M307.08 406.39L300.86 412.61M301.15 409.50L309.95 409.50M302.44 406.39L308.66 412.61M305.55 405.10L305.55 413.90M308.66 406.39L302.44 412.61M302.73 409.50L311.53 409.50M304.02 406.39L310.24 412.61M307.13 405.10L307.13 413.90M310.24 406.39L304.02 412.61M304.32 409.50L313.12 409.50M305.61 406.39L311.83 412.61M308.72 405.10L308.72 413.90M311.83 406.39L305.61 412.61M305.90 409.50L314.70 409.50M307.19 406.39L313.41 412.61M310.30 405.10L310.30 413.90M313.41 406.39L307.19 412.61M307.48 409.50L316.28 409.50M308.77 406.39L314.99 412.61M311.88 405.10L311.88 413.90M314.99 406.39L308.77 412.61M309.07 409.50L317.87 409.50M310.36 406.39L316.58 412.61M313.47 405.10L313.47 413.90M316.58 406.39L310.36 412.61M310.65 409.50L319.45 409.50M311.94 406.39L318.16 412.61M315.05 405.10L315.05 413.90M318.16 406.39L311.94 412.61M312.23 409.50L321.03 409.50M313.52 406.39L319.74 412.61M316.63 405.10L316.63 413.90M319.74 406.39L313.52 412.61M313.82 409.50L322.62 409.50M315.11 406.39L321.33 412.61M318.22 405.10L318.22 413.90M321.33 406.39L315.11 412.61M315.40 409.50L324.20 409.50M316.69 406.39L322.91 412.61M319.80 405.10L319.80 413.90M322.91 406.39L316.69 412.61M316.98 409.50L325.78 409.50M318.27 406.39L324.49 412.61M321.38 405.10L321.38 413.90M324.49 406.39L318.27 412.61M318.57 409.50L327.37 409.50M319.86 406.39L326.08 412.61M322.97 405.10L322.97 413.90M326.08 406.39L319.86 412.61M320.15 409.50L328.95 409.50M321.44 406.39L327.66 412.61M324.55 405.10L324.55 413.90M327.66 406.39L321.44 412.61M321.73 409.50L330.53 409.50M323.02 406.39L329.24 412.61M326.13 405.10L326.13 413.90M329.24 406.39L323.02 412.61M323.32 409.50L332.12 409.50M324.61 406.39L330.83 412.61M327.72 405.10L327.72 413.90M330.83 406.39L324.61 412.61M324.90 409.50L333.70 409.50M326.19 406.39L332.41 412.61M329.30 405.10L329.30 413.90M332.41 406.39L326.19 412.61M326.48 409.50L335.28 409.50M327.77 406.39L333.99 412.61M330.88 405.10L330.88 413.90M333.99 406.39L327.77 412.61M328.07 409.50L336.87 409.50M329.36 406.39L335.58 412.61M332.47 405.10L332.47 413.90M335.58 406.39L329.36 412.61M329.65 409.50L338.45 409.50M330.94 406.39L337.16 412.61M334.05 405.10L334.05 413.90M337.16 406.39L330.94 412.61M331.23 409.50L340.03 409.50M332.52 406.39L338.74 412.61M335.63 405.10L335.63 413.90M338.74 406.39L332.52 412.61M332.82 409.50L341.62 409.50M334.11 406.39L340.33 412.61M337.22 405.10L337.22 413.90M340.33 406.39L334.11 412.61M334.40 409.50L343.20 409.50M335.69 406.39L341.91 412.61M338.80 405.10L338.80 413.90M341.91 406.39L335.69 412.61M335.98 409.50L344.78 409.50M337.27 406.39L343.49 412.61M340.38 405.10L340.38 413.90M343.49 406.39L337.27 412.61M337.57 409.50L346.37 409.50M338.86 406.39L345.08 412.61M341.97 405.10L341.97 413.90M345.08 406.39L338.86 412.61M339.15 409.50L347.95 409.50M340.44 406.39L346.66 412.61M343.55 405.10L343.55 413.90M346.66 406.39L340.44 412.61M340.73 409.50L349.53 409.50M342.02 406.39L348.24 412.61M345.13 405.10L345.13 413.90M348.24 406.39L342.02 412.61M342.32 409.50L351.12 409.50M343.61 406.39L349.83 412.61M346.72 405.10L346.72 413.90M349.83 406.39L343.61 412.61M343.90 409.50L352.70 409.50M345.19 406.39L351.41 412.61M348.30 405.10L348.30 413.90M351.41 406.39L345.19 412.61M345.48 409.50L354.28 409.50M346.77 406.39L352.99 412.61M349.88 405.10L349.88 413.90M352.99 406.39L346.77 412.61M347.07 409.50L355.87 409.50M348.36 406.39L354.58 412.61M351.47 405.10L351.47 413.90M354.58 406.39L348.36 412.61M348.65 409.50L357.45 409.50M349.94 406.39L356.16 412.61M353.05 405.10L353.05 413.90M356.16 406.39L349.94 412.61M350.23 409.50L359.03 409.50M351.52 406.39L357.74 412.61M354.63 405.10L354.63 413.90M357.74 406.39L351.52 412.61M351.82 409.50L360.62 409.50M353.11 406.39L359.33 412.61M356.22 405.10L356.22 413.90M359.33 406.39L353.11 412.61M353.40 409.50L362.20 409.50M354.69 406.39L360.91 412.61M357.80 405.10L357.80 413.90M360.91 406.39L354.69 412.61M354.98 409.50L363.78 409.50M356.27 406.39L362.49 412.61M359.38 405.10L359.38 413.90M362.49 406.39L356.27 412.61M356.57 409.50L365.37 409.50M357.86 406.39L364.08 412.61M360.97 405.10L360.97 413.90M364.08 406.39L357.86 412.61M358.15 409.50L366.95 409.50M359.44 406.39L365.66 412.61M362.55 405.10L362.55 413.90M365.66 406.39L359.44 412.61M359.73 409.50L368.53 409.50M361.02 406.39L367.24 412.61M364.13 405.10L364.13 413.90M367.24 406.39L361.02 412.61M361.32 409.50L370.12 409.50M362.61 406.39L368.83 412.61M365.72 405.10L365.72 413.90M368.83 406.39L362.61 412.61M362.90 409.50L371.70 409.50M364.19 406.39L370.41 412.61M367.30 405.10L367.30 413.90M370.41 406.39L364.19 412.61M364.48 409.50L373.28 409.50M365.77 406.39L371.99 412.61M368.88 405.10L368.88 413.90M371.99 406.39L365.77 412.61M366.07 409.50L374.87 409.50M367.36 406.39L373.58 412.61M370.47 405.10L370.47 413.90M373.58 406.39L367.36 412.61M367.65 409.50L376.45 409.50M368.94 406.39L375.16 412.61M372.05 405.10L372.05 413.90M375.16 406.39L368.94 412.61M369.23 409.50L378.03 409.50M370.52 406.39L376.74 412.61M373.63 405.10L373.63 413.90M376.74 406.39L370.52 412.61M370.82 409.50L379.62 409.50M372.11 406.39L378.33 412.61M375.22 405.10L375.22 413.90M378.33 406.39L372.11 412.61M372.40 409.50L381.20 409.50M373.69 406.39L379.91 412.61M376.80 405.10L376.80 413.90M379.91 406.39L373.69 412.61M373.98 409.50L382.78 409.50M375.27 406.39L381.49 412.61M378.38 405.10L378.38 413.90M381.49 406.39L375.27 412.61M375.57 409.50L384.37 409.50M376.86 406.39L383.08 412.61M379.97 405.10L379.97 413.90M383.08 406.39L376.86 412.61M377.15 409.50L385.95 409.50M378.44 406.39L384.66 412.61M381.55 405.10L381.55 413.90M384.66 406.39L378.44 412.61M378.73 409.50L387.53 409.50M380.02 406.39L386.24 412.61M383.13 405.10L383.13 413.90M386.24 406.39L380.02 412.61M380.32 409.50L389.12 409.50M381.61 406.39L387.83 412.61M384.72 405.10L384.72 413.90M387.83 406.39L381.61 412.61M381.90 409.50L390.70 409.50M383.19 406.39L389.41 412.61M386.30 405.10L386.30 413.90M389.41 406.39L383.19 412.61M383.48 409.50L392.28 409.50M384.77 406.39L390.99 412.61M387.88 405.10L387.88 413.90M390.99 406.39L384.77 412.61M385.07 409.50L393.87 409.50M386.36 406.39L392.58 412.61M389.47 405.10L389.47 413.90M392.58 406.39L386.36 412.61M386.65 409.50L395.45 409.50M387.94 406.39L394.16 412.61M391.05 405.10L391.05 413.90M394.16 406.39L387.94 412.61M388.23 409.50L397.03 409.50M389.52 406.39L395.74 412.61M392.63 405.10L392.63 413.90M395.74 406.39L389.52 412.61M389.82 409.50L398.62 409.50M391.11 406.39L397.33 412.61M394.22 405.10L394.22 413.90M397.33 406.39L391.11 412.61M391.40 409.50L400.20 409.50M392.69 406.39L398.91 412.61M395.80 405.10L395.80 413.90M398.91 406.39L392.69 412.61M392.98 409.50L401.78 409.50M394.27 406.39L400.49 412.61M397.38 405.10L397.38 413.90M400.49 406.39L394.27 412.61M394.57 409.50L403.37 409.50M395.86 406.39L402.08 412.61M398.97 405.10L398.97 413.90M402.08 406.39L395.86 412.61M396.15 409.50L404.95 409.50M397.44 406.39L403.66 412.61M400.55 405.10L400.55 413.90M403.66 406.39L397.44 412.61M397.73 409.50L406.53 409.50M399.02 406.39L405.24 412.61M402.13 405.10L402.13 413.90M405.24 406.39L399.02 412.61M399.32 409.50L408.12 409.50M400.61 406.39L406.83 412.61M403.72 405.10L403.72 413.90M406.83 406.39L400.61 412.61M400.90 409.50L409.70 409.50M402.19 406.39L408.41 412.61M405.30 405.10L405.30 413.90M408.41 406.39L402.19 412.61M402.48 409.50L411.28 409.50M403.77 406.39L409.99 412.61M406.88 405.10L406.88 413.90M409.99 406.39L403.77 412.61M404.07 409.50L412.87 409.50M405.36 406.39L411.58 412.61M408.47 405.10L408.47 413.90M411.58 406.39L405.36 412.61M405.65 409.50L414.45 409.50M406.94 406.39L413.16 412.61M410.05 405.10L410.05 413.90M413.16 406.39L406.94 412.61M407.23 409.50L416.03 409.50M408.52 406.39L414.74 412.61M411.63 405.10L411.63 413.90M414.74 406.39L408.52 412.61M408.82 409.50L417.62 409.50M410.11 406.39L416.33 412.61M413.22 405.10L413.22 413.90M416.33 406.39L410.11 412.61M410.40 409.50L419.20 409.50M411.69 406.39L417.91 412.61M414.80 405.10L414.80 413.90M417.91 406.39L411.69 412.61M411.98 409.50L420.78 409.50M413.27 406.39L419.49 412.61M416.38 405.10L416.38 413.90M419.49 406.39L413.27 412.61M413.57 409.50L422.37 409.50M414.86 406.39L421.08 412.61M417.97 405.10L417.97 413.90M421.08 406.39L414.86 412.61M415.15 409.50L423.95 409.50M416.44 406.39L422.66 412.61M419.55 405.10L419.55 413.90M422.66 406.39L416.44 412.61M416.73 409.50L425.53 409.50M418.02 406.39L424.24 412.61M421.13 405.10L421.13 413.90M424.24 406.39L418.02 412.61M418.32 409.50L427.12 409.50M419.61 406.39L425.83 412.61M422.72 405.10L422.72 413.90M425.83 406.39L419.61 412.61M419.90 409.50L428.70 409.50M421.19 406.39L427.41 412.61M424.30 405.10L424.30 413.90M427.41 406.39L421.19 412.61M421.48 409.50L430.28 409.50M422.77 406.39L428.99 412.61M425.88 405.10L425.88 413.90M428.99 406.39L422.77 412.61M423.07 409.50L431.87 409.50M424.36 406.39L430.58 412.61M427.47 405.10L427.47 413.90M430.58 406.39L424.36 412.61M424.65 409.50L433.45 409.50M425.94 406.39L432.16 412.61M429.05 405.10L429.05 413.90M432.16 406.39L425.94 412.61M426.23 409.50L435.03 409.50M427.52 406.39L433.74 412.61M430.63 405.10L430.63 413.90M433.74 406.39L427.52 412.61M427.82 409.50L436.62 409.50M429.11 406.39L435.33 412.61M432.22 405.10L432.22 413.90M435.33 406.39L429.11 412.61M429.40 409.50L438.20 409.50M430.69 406.39L436.91 412.61M433.80 405.10L433.80 413.90M436.91 406.39L430.69 412.61M430.98 409.50L439.78 409.50M432.27 406.39L438.49 412.61M435.38 405.10L435.38 413.90M438.49 406.39L432.27 412.61M432.57 409.50L441.37 409.50M433.85 406.39L440.08 412.61M436.97 405.10L436.97 413.90M440.08 406.39L433.85 412.61M434.15 409.50L442.95 409.50M435.44 406.39L441.66 412.61M438.55 405.10L438.55 413.90M441.66 406.39L435.44 412.61M435.73 409.50L444.53 409.50M437.02 406.39L443.24 412.61M440.13 405.10L440.13 413.90M443.24 406.39L437.02 412.61M437.32 409.50L446.12 409.50M438.60 406.39L444.83 412.61M441.72 405.10L441.72 413.90M444.83 406.39L438.60 412.61M438.90 409.50L447.70 409.50M440.19 406.39L446.41 412.61M443.30 405.10L443.30 413.90M446.41 406.39L440.19 412.61M440.48 409.50L449.28 409.50M441.77 406.39L447.99 412.61M444.88 405.10L444.88 413.90M447.99 406.39L441.77 412.61M442.07 409.50L450.87 409.50M443.35 406.39L449.58 412.61M446.47 405.10L446.47 413.90M449.58 406.39L443.35 412.61M443.65 409.50L452.45 409.50M444.94 406.39L451.16 412.61M448.05 405.10L448.05 413.90M451.16 406.39L444.94 412.61M445.23 409.50L454.03 409.50M446.52 406.39L452.74 412.61M449.63 405.10L449.63 413.90M452.74 406.39L446.52 412.61M446.82 409.50L455.62 409.50M448.10 406.39L454.33 412.61M451.22 405.10L451.22 413.90M454.33 406.39L448.10 412.61M448.40 409.50L457.20 409.50M449.69 406.39L455.91 412.61M452.80 405.10L452.80 413.90M455.91 406.39L449.69 412.61M449.98 409.50L458.78 409.50M451.27 406.39L457.49 412.61M454.38 405.10L454.38 413.90M457.49 406.39L451.27 412.61M451.57 409.50L460.37 409.50M452.85 406.39L459.08 412.61M455.97 405.10L455.97 413.90M459.08 406.39L452.85 412.61M457.20 409.50L466.00 409.50M458.49 406.39L464.71 412.61M461.60 405.10L461.60 413.90M464.71 406.39L458.49 412.61M461.60 409.50L470.40 409.50M462.89 406.39L469.11 412.61M466.00 405.10L466.00 413.90M469.11 406.39L462.89 412.61M463.20 409.50L472.00 409.50M464.49 406.39L470.71 412.61M467.60 405.10L467.60 413.90M470.71 406.39L464.49 412.61" stroke="#129c70" stroke-width="1.25" fill="none" stroke-linecap="butt"/>
<path d="M223.90 425.30L232.70 425.30M225.19 422.19L231.41 428.41M228.30 420.90L228.30 429.70M231.41 422.19L225.19 428.41M227.20 425.30L236.00 425.30M228.49 422.19L234.71 428.41M231.60 420.90L231.60 429.70M234.71 422.19L228.49 428.41M231.80 425.30L240.60 425.30M233.09 422.19L239.31 428.41M236.20 420.90L236.20 429.70M239.31 422.19L233.09 428.41M233.40 425.30L242.20 425.30M234.69 422.19L240.91 428.41M237.80 420.90L237.80 429.70M240.91 422.19L234.69 428.41M239.80 425.30L248.60 425.30M241.09 422.19L247.31 428.41M244.20 420.90L244.20 429.70M247.31 422.19L241.09 428.41M241.38 425.30L250.18 425.30M242.67 422.19L248.89 428.41M245.78 420.90L245.78 429.70M248.89 422.19L242.67 428.41M242.97 425.30L251.77 425.30M244.26 422.19L250.48 428.41M247.37 420.90L247.37 429.70M250.48 422.19L244.26 428.41M244.55 425.30L253.35 425.30M245.84 422.19L252.06 428.41M248.95 420.90L248.95 429.70M252.06 422.19L245.84 428.41M246.13 425.30L254.93 425.30M247.42 422.19L253.64 428.41M250.53 420.90L250.53 429.70M253.64 422.19L247.42 428.41M247.72 425.30L256.52 425.30M249.01 422.19L255.23 428.41M252.12 420.90L252.12 429.70M255.23 422.19L249.01 428.41M249.30 425.30L258.10 425.30M250.59 422.19L256.81 428.41M253.70 420.90L253.70 429.70M256.81 422.19L250.59 428.41M250.88 425.30L259.68 425.30M252.17 422.19L258.39 428.41M255.28 420.90L255.28 429.70M258.39 422.19L252.17 428.41M252.47 425.30L261.27 425.30M253.76 422.19L259.98 428.41M256.87 420.90L256.87 429.70M259.98 422.19L253.76 428.41M254.05 425.30L262.85 425.30M255.34 422.19L261.56 428.41M258.45 420.90L258.45 429.70M261.56 422.19L255.34 428.41M255.63 425.30L264.43 425.30M256.92 422.19L263.14 428.41M260.03 420.90L260.03 429.70M263.14 422.19L256.92 428.41M257.22 425.30L266.02 425.30M258.51 422.19L264.73 428.41M261.62 420.90L261.62 429.70M264.73 422.19L258.51 428.41M258.80 425.30L267.60 425.30M260.09 422.19L266.31 428.41M263.20 420.90L263.20 429.70M266.31 422.19L260.09 428.41M260.38 425.30L269.18 425.30M261.67 422.19L267.89 428.41M264.78 420.90L264.78 429.70M267.89 422.19L261.67 428.41M261.97 425.30L270.77 425.30M263.26 422.19L269.48 428.41M266.37 420.90L266.37 429.70M269.48 422.19L263.26 428.41M263.55 425.30L272.35 425.30M264.84 422.19L271.06 428.41M267.95 420.90L267.95 429.70M271.06 422.19L264.84 428.41M265.13 425.30L273.93 425.30M266.42 422.19L272.64 428.41M269.53 420.90L269.53 429.70M272.64 422.19L266.42 428.41M266.72 425.30L275.52 425.30M268.01 422.19L274.23 428.41M271.12 420.90L271.12 429.70M274.23 422.19L268.01 428.41M268.30 425.30L277.10 425.30M269.59 422.19L275.81 428.41M272.70 420.90L272.70 429.70M275.81 422.19L269.59 428.41M269.88 425.30L278.68 425.30M271.17 422.19L277.39 428.41M274.28 420.90L274.28 429.70M277.39 422.19L271.17 428.41M271.47 425.30L280.27 425.30M272.76 422.19L278.98 428.41M275.87 420.90L275.87 429.70M278.98 422.19L272.76 428.41M273.05 425.30L281.85 425.30M274.34 422.19L280.56 428.41M277.45 420.90L277.45 429.70M280.56 422.19L274.34 428.41M274.63 425.30L283.43 425.30M275.92 422.19L282.14 428.41M279.03 420.90L279.03 429.70M282.14 422.19L275.92 428.41M276.22 425.30L285.02 425.30M277.51 422.19L283.73 428.41M280.62 420.90L280.62 429.70M283.73 422.19L277.51 428.41M277.80 425.30L286.60 425.30M279.09 422.19L285.31 428.41M282.20 420.90L282.20 429.70M285.31 422.19L279.09 428.41M279.38 425.30L288.18 425.30M280.67 422.19L286.89 428.41M283.78 420.90L283.78 429.70M286.89 422.19L280.67 428.41M280.97 425.30L289.77 425.30M282.26 422.19L288.48 428.41M285.37 420.90L285.37 429.70M288.48 422.19L282.26 428.41M282.55 425.30L291.35 425.30M283.84 422.19L290.06 428.41M286.95 420.90L286.95 429.70M290.06 422.19L283.84 428.41M284.13 425.30L292.93 425.30M285.42 422.19L291.64 428.41M288.53 420.90L288.53 429.70M291.64 422.19L285.42 428.41M285.72 425.30L294.52 425.30M287.01 422.19L293.23 428.41M290.12 420.90L290.12 429.70M293.23 422.19L287.01 428.41M287.30 425.30L296.10 425.30M288.59 422.19L294.81 428.41M291.70 420.90L291.70 429.70M294.81 422.19L288.59 428.41M288.88 425.30L297.68 425.30M290.17 422.19L296.39 428.41M293.28 420.90L293.28 429.70M296.39 422.19L290.17 428.41M290.47 425.30L299.27 425.30M291.76 422.19L297.98 428.41M294.87 420.90L294.87 429.70M297.98 422.19L291.76 428.41M292.05 425.30L300.85 425.30M293.34 422.19L299.56 428.41M296.45 420.90L296.45 429.70M299.56 422.19L293.34 428.41M293.63 425.30L302.43 425.30M294.92 422.19L301.14 428.41M298.03 420.90L298.03 429.70M301.14 422.19L294.92 428.41M295.22 425.30L304.02 425.30M296.51 422.19L302.73 428.41M299.62 420.90L299.62 429.70M302.73 422.19L296.51 428.41M296.80 425.30L305.60 425.30M298.09 422.19L304.31 428.41M301.20 420.90L301.20 429.70M304.31 422.19L298.09 428.41M298.38 425.30L307.18 425.30M299.67 422.19L305.89 428.41M302.78 420.90L302.78 429.70M305.89 422.19L299.67 428.41M299.97 425.30L308.77 425.30M301.26 422.19L307.48 428.41M304.37 420.90L304.37 429.70M307.48 422.19L301.26 428.41M301.55 425.30L310.35 425.30M302.84 422.19L309.06 428.41M305.95 420.90L305.95 429.70M309.06 422.19L302.84 428.41M303.13 425.30L311.93 425.30M304.42 422.19L310.64 428.41M307.53 420.90L307.53 429.70M310.64 422.19L304.42 428.41M304.72 425.30L313.52 425.30M306.01 422.19L312.23 428.41M309.12 420.90L309.12 429.70M312.23 422.19L306.01 428.41M306.30 425.30L315.10 425.30M307.59 422.19L313.81 428.41M310.70 420.90L310.70 429.70M313.81 422.19L307.59 428.41M307.88 425.30L316.68 425.30M309.17 422.19L315.39 428.41M312.28 420.90L312.28 429.70M315.39 422.19L309.17 428.41M309.47 425.30L318.27 425.30M310.76 422.19L316.98 428.41M313.87 420.90L313.87 429.70M316.98 422.19L310.76 428.41M311.05 425.30L319.85 425.30M312.34 422.19L318.56 428.41M315.45 420.90L315.45 429.70M318.56 422.19L312.34 428.41M312.63 425.30L321.43 425.30M313.92 422.19L320.14 428.41M317.03 420.90L317.03 429.70M320.14 422.19L313.92 428.41M314.22 425.30L323.02 425.30M315.51 422.19L321.73 428.41M318.62 420.90L318.62 429.70M321.73 422.19L315.51 428.41M315.80 425.30L324.60 425.30M317.09 422.19L323.31 428.41M320.20 420.90L320.20 429.70M323.31 422.19L317.09 428.41M317.38 425.30L326.18 425.30M318.67 422.19L324.89 428.41M321.78 420.90L321.78 429.70M324.89 422.19L318.67 428.41M318.97 425.30L327.77 425.30M320.26 422.19L326.48 428.41M323.37 420.90L323.37 429.70M326.48 422.19L320.26 428.41M320.55 425.30L329.35 425.30M321.84 422.19L328.06 428.41M324.95 420.90L324.95 429.70M328.06 422.19L321.84 428.41M322.13 425.30L330.93 425.30M323.42 422.19L329.64 428.41M326.53 420.90L326.53 429.70M329.64 422.19L323.42 428.41M323.72 425.30L332.52 425.30M325.01 422.19L331.23 428.41M328.12 420.90L328.12 429.70M331.23 422.19L325.01 428.41M325.30 425.30L334.10 425.30M326.59 422.19L332.81 428.41M329.70 420.90L329.70 429.70M332.81 422.19L326.59 428.41M326.88 425.30L335.68 425.30M328.17 422.19L334.39 428.41M331.28 420.90L331.28 429.70M334.39 422.19L328.17 428.41M328.47 425.30L337.27 425.30M329.76 422.19L335.98 428.41M332.87 420.90L332.87 429.70M335.98 422.19L329.76 428.41M330.05 425.30L338.85 425.30M331.34 422.19L337.56 428.41M334.45 420.90L334.45 429.70M337.56 422.19L331.34 428.41M331.63 425.30L340.43 425.30M332.92 422.19L339.14 428.41M336.03 420.90L336.03 429.70M339.14 422.19L332.92 428.41M333.22 425.30L342.02 425.30M334.51 422.19L340.73 428.41M337.62 420.90L337.62 429.70M340.73 422.19L334.51 428.41M334.80 425.30L343.60 425.30M336.09 422.19L342.31 428.41M339.20 420.90L339.20 429.70M342.31 422.19L336.09 428.41M336.38 425.30L345.18 425.30M337.67 422.19L343.89 428.41M340.78 420.90L340.78 429.70M343.89 422.19L337.67 428.41M337.97 425.30L346.77 425.30M339.26 422.19L345.48 428.41M342.37 420.90L342.37 429.70M345.48 422.19L339.26 428.41M339.55 425.30L348.35 425.30M340.84 422.19L347.06 428.41M343.95 420.90L343.95 429.70M347.06 422.19L340.84 428.41M341.13 425.30L349.93 425.30M342.42 422.19L348.64 428.41M345.53 420.90L345.53 429.70M348.64 422.19L342.42 428.41M342.72 425.30L351.52 425.30M344.01 422.19L350.23 428.41M347.12 420.90L347.12 429.70M350.23 422.19L344.01 428.41M344.30 425.30L353.10 425.30M345.59 422.19L351.81 428.41M348.70 420.90L348.70 429.70M351.81 422.19L345.59 428.41M345.88 425.30L354.68 425.30M347.17 422.19L353.39 428.41M350.28 420.90L350.28 429.70M353.39 422.19L347.17 428.41M347.47 425.30L356.27 425.30M348.76 422.19L354.98 428.41M351.87 420.90L351.87 429.70M354.98 422.19L348.76 428.41M349.05 425.30L357.85 425.30M350.34 422.19L356.56 428.41M353.45 420.90L353.45 429.70M356.56 422.19L350.34 428.41M350.63 425.30L359.43 425.30M351.92 422.19L358.14 428.41M355.03 420.90L355.03 429.70M358.14 422.19L351.92 428.41M352.22 425.30L361.02 425.30M353.51 422.19L359.73 428.41M356.62 420.90L356.62 429.70M359.73 422.19L353.51 428.41M353.80 425.30L362.60 425.30M355.09 422.19L361.31 428.41M358.20 420.90L358.20 429.70M361.31 422.19L355.09 428.41M355.38 425.30L364.18 425.30M356.67 422.19L362.89 428.41M359.78 420.90L359.78 429.70M362.89 422.19L356.67 428.41M356.97 425.30L365.77 425.30M358.26 422.19L364.48 428.41M361.37 420.90L361.37 429.70M364.48 422.19L358.26 428.41M358.55 425.30L367.35 425.30M359.84 422.19L366.06 428.41M362.95 420.90L362.95 429.70M366.06 422.19L359.84 428.41M360.13 425.30L368.93 425.30M361.42 422.19L367.64 428.41M364.53 420.90L364.53 429.70M367.64 422.19L361.42 428.41M361.72 425.30L370.52 425.30M363.01 422.19L369.23 428.41M366.12 420.90L366.12 429.70M369.23 422.19L363.01 428.41M363.30 425.30L372.10 425.30M364.59 422.19L370.81 428.41M367.70 420.90L367.70 429.70M370.81 422.19L364.59 428.41M364.88 425.30L373.68 425.30M366.17 422.19L372.39 428.41M369.28 420.90L369.28 429.70M372.39 422.19L366.17 428.41M366.47 425.30L375.27 425.30M367.76 422.19L373.98 428.41M370.87 420.90L370.87 429.70M373.98 422.19L367.76 428.41M368.05 425.30L376.85 425.30M369.34 422.19L375.56 428.41M372.45 420.90L372.45 429.70M375.56 422.19L369.34 428.41M369.63 425.30L378.43 425.30M370.92 422.19L377.14 428.41M374.03 420.90L374.03 429.70M377.14 422.19L370.92 428.41M371.22 425.30L380.02 425.30M372.51 422.19L378.73 428.41M375.62 420.90L375.62 429.70M378.73 422.19L372.51 428.41M372.80 425.30L381.60 425.30M374.09 422.19L380.31 428.41M377.20 420.90L377.20 429.70M380.31 422.19L374.09 428.41M374.38 425.30L383.18 425.30M375.67 422.19L381.89 428.41M378.78 420.90L378.78 429.70M381.89 422.19L375.67 428.41M375.97 425.30L384.77 425.30M377.26 422.19L383.48 428.41M380.37 420.90L380.37 429.70M383.48 422.19L377.26 428.41M377.55 425.30L386.35 425.30M378.84 422.19L385.06 428.41M381.95 420.90L381.95 429.70M385.06 422.19L378.84 428.41M379.13 425.30L387.93 425.30M380.42 422.19L386.64 428.41M383.53 420.90L383.53 429.70M386.64 422.19L380.42 428.41M380.72 425.30L389.52 425.30M382.01 422.19L388.23 428.41M385.12 420.90L385.12 429.70M388.23 422.19L382.01 428.41M382.30 425.30L391.10 425.30M383.59 422.19L389.81 428.41M386.70 420.90L386.70 429.70M389.81 422.19L383.59 428.41M383.88 425.30L392.68 425.30M385.17 422.19L391.39 428.41M388.28 420.90L388.28 429.70M391.39 422.19L385.17 428.41M385.47 425.30L394.27 425.30M386.76 422.19L392.98 428.41M389.87 420.90L389.87 429.70M392.98 422.19L386.76 428.41M387.05 425.30L395.85 425.30M388.34 422.19L394.56 428.41M391.45 420.90L391.45 429.70M394.56 422.19L388.34 428.41M388.63 425.30L397.43 425.30M389.92 422.19L396.14 428.41M393.03 420.90L393.03 429.70M396.14 422.19L389.92 428.41M390.22 425.30L399.02 425.30M391.51 422.19L397.73 428.41M394.62 420.90L394.62 429.70M397.73 422.19L391.51 428.41M391.80 425.30L400.60 425.30M393.09 422.19L399.31 428.41M396.20 420.90L396.20 429.70M399.31 422.19L393.09 428.41M393.38 425.30L402.18 425.30M394.67 422.19L400.89 428.41M397.78 420.90L397.78 429.70M400.89 422.19L394.67 428.41M394.97 425.30L403.77 425.30M396.26 422.19L402.48 428.41M399.37 420.90L399.37 429.70M402.48 422.19L396.26 428.41M396.55 425.30L405.35 425.30M397.84 422.19L404.06 428.41M400.95 420.90L400.95 429.70M404.06 422.19L397.84 428.41M398.13 425.30L406.93 425.30M399.42 422.19L405.64 428.41M402.53 420.90L402.53 429.70M405.64 422.19L399.42 428.41M399.72 425.30L408.52 425.30M401.01 422.19L407.23 428.41M404.12 420.90L404.12 429.70M407.23 422.19L401.01 428.41M401.30 425.30L410.10 425.30M402.59 422.19L408.81 428.41M405.70 420.90L405.70 429.70M408.81 422.19L402.59 428.41M402.88 425.30L411.68 425.30M404.17 422.19L410.39 428.41M407.28 420.90L407.28 429.70M410.39 422.19L404.17 428.41M404.47 425.30L413.27 425.30M405.76 422.19L411.98 428.41M408.87 420.90L408.87 429.70M411.98 422.19L405.76 428.41M406.05 425.30L414.85 425.30M407.34 422.19L413.56 428.41M410.45 420.90L410.45 429.70M413.56 422.19L407.34 428.41M407.63 425.30L416.43 425.30M408.92 422.19L415.14 428.41M412.03 420.90L412.03 429.70M415.14 422.19L408.92 428.41M409.22 425.30L418.02 425.30M410.51 422.19L416.73 428.41M413.62 420.90L413.62 429.70M416.73 422.19L410.51 428.41M410.80 425.30L419.60 425.30M412.09 422.19L418.31 428.41M415.20 420.90L415.20 429.70M418.31 422.19L412.09 428.41M412.38 425.30L421.18 425.30M413.67 422.19L419.89 428.41M416.78 420.90L416.78 429.70M419.89 422.19L413.67 428.41M413.97 425.30L422.77 425.30M415.26 422.19L421.48 428.41M418.37 420.90L418.37 429.70M421.48 422.19L415.26 428.41M415.55 425.30L424.35 425.30M416.84 422.19L423.06 428.41M419.95 420.90L419.95 429.70M423.06 422.19L416.84 428.41M417.13 425.30L425.93 425.30M418.42 422.19L424.64 428.41M421.53 420.90L421.53 429.70M424.64 422.19L418.42 428.41M418.72 425.30L427.52 425.30M420.01 422.19L426.23 428.41M423.12 420.90L423.12 429.70M426.23 422.19L420.01 428.41M420.30 425.30L429.10 425.30M421.59 422.19L427.81 428.41M424.70 420.90L424.70 429.70M427.81 422.19L421.59 428.41M421.88 425.30L430.68 425.30M423.17 422.19L429.39 428.41M426.28 420.90L426.28 429.70M429.39 422.19L423.17 428.41M423.47 425.30L432.27 425.30M424.76 422.19L430.98 428.41M427.87 420.90L427.87 429.70M430.98 422.19L424.76 428.41M425.05 425.30L433.85 425.30M426.34 422.19L432.56 428.41M429.45 420.90L429.45 429.70M432.56 422.19L426.34 428.41M426.63 425.30L435.43 425.30M427.92 422.19L434.14 428.41M431.03 420.90L431.03 429.70M434.14 422.19L427.92 428.41M428.22 425.30L437.02 425.30M429.51 422.19L435.73 428.41M432.62 420.90L432.62 429.70M435.73 422.19L429.51 428.41M429.80 425.30L438.60 425.30M431.09 422.19L437.31 428.41M434.20 420.90L434.20 429.70M437.31 422.19L431.09 428.41M431.38 425.30L440.18 425.30M432.67 422.19L438.89 428.41M435.78 420.90L435.78 429.70M438.89 422.19L432.67 428.41M432.97 425.30L441.77 425.30M434.25 422.19L440.48 428.41M437.37 420.90L437.37 429.70M440.48 422.19L434.25 428.41M434.55 425.30L443.35 425.30M435.84 422.19L442.06 428.41M438.95 420.90L438.95 429.70M442.06 422.19L435.84 428.41M436.13 425.30L444.93 425.30M437.42 422.19L443.64 428.41M440.53 420.90L440.53 429.70M443.64 422.19L437.42 428.41M437.72 425.30L446.52 425.30M439.00 422.19L445.23 428.41M442.12 420.90L442.12 429.70M445.23 422.19L439.00 428.41M439.30 425.30L448.10 425.30M440.59 422.19L446.81 428.41M443.70 420.90L443.70 429.70M446.81 422.19L440.59 428.41M440.88 425.30L449.68 425.30M442.17 422.19L448.39 428.41M445.28 420.90L445.28 429.70M448.39 422.19L442.17 428.41M442.47 425.30L451.27 425.30M443.75 422.19L449.98 428.41M446.87 420.90L446.87 429.70M449.98 422.19L443.75 428.41M444.05 425.30L452.85 425.30M445.34 422.19L451.56 428.41M448.45 420.90L448.45 429.70M451.56 422.19L445.34 428.41M445.63 425.30L454.43 425.30M446.92 422.19L453.14 428.41M450.03 420.90L450.03 429.70M453.14 422.19L446.92 428.41M447.22 425.30L456.02 425.30M448.50 422.19L454.73 428.41M451.62 420.90L451.62 429.70M454.73 422.19L448.50 428.41M448.80 425.30L457.60 425.30M450.09 422.19L456.31 428.41M453.20 420.90L453.20 429.70M456.31 422.19L450.09 428.41M450.38 425.30L459.18 425.30M451.67 422.19L457.89 428.41M454.78 420.90L454.78 429.70M457.89 422.19L451.67 428.41M451.97 425.30L460.77 425.30M453.25 422.19L459.48 428.41M456.37 420.90L456.37 429.70M459.48 422.19L453.25 428.41M453.55 425.30L462.35 425.30M454.84 422.19L461.06 428.41M457.95 420.90L457.95 429.70M461.06 422.19L454.84 428.41M455.13 425.30L463.93 425.30M456.42 422.19L462.64 428.41M459.53 420.90L459.53 429.70M462.64 422.19L456.42 428.41M461.60 425.30L470.40 425.30M462.89 422.19L469.11 428.41M466.00 420.90L466.00 429.70M469.11 422.19L462.89 428.41M463.20 425.30L472.00 425.30M464.49 422.19L470.71 428.41M467.60 420.90L467.60 429.70M470.71 422.19L464.49 428.41" stroke="#cd77a9" stroke-width="1.25" fill="none" stroke-linecap="butt"/>
<text x="338.6" y="1087.4" transform="matrix(1 0 0 1.03 0 -32.408)" font-size="20" text-anchor="middle" fill="#111">Trial number</text>
<rect x="1.5" y="1121.6" width="681.7" height="28.5" fill="none" stroke="#333" stroke-width="1.3"/>
<line x1="7.4" y1="1136" x2="24.2" y2="1136" stroke="#000" stroke-width="1.8"/>
<text x="29.5" y="1142" transform="matrix(1 0 0 1.03 0 -34.046)" font-size="20.4" fill="#000">Confidence intervals</text>
<line x1="223.8" y1="1136" x2="240.7" y2="1136" stroke="#cd77a9" stroke-width="1.8"/>
<text x="246.2" y="1142" transform="matrix(1 0 0 1.03 0 -34.046)" font-size="20.4" fill="#000">Forward accumulation</text>
<line x1="454" y1="1136" x2="470.3" y2="1136" stroke="#089a6f" stroke-width="1.8"/>
<text x="475.3" y="1142" transform="matrix(1 0 0 1.03 0 -34.046)" font-size="20.4" fill="#000">Reverse accumulation</text>
</g>
</svg></body></html>
